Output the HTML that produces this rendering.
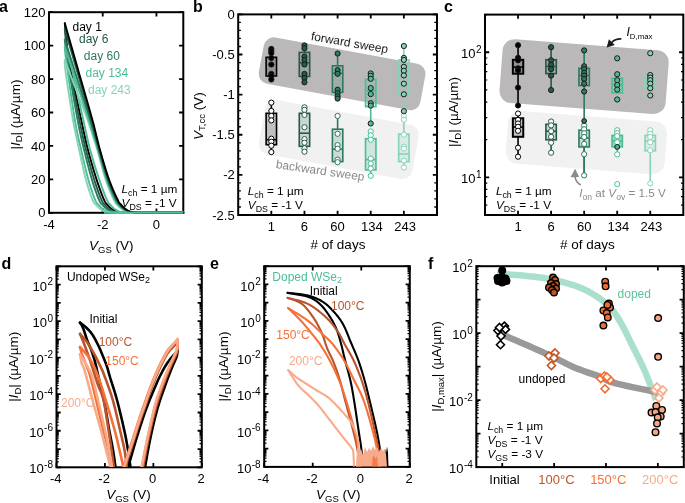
<!DOCTYPE html>
<html><head><meta charset="utf-8"><style>
html,body{margin:0;padding:0;background:#fff;width:685px;height:503px;overflow:hidden}
svg{display:block;will-change:transform}
text{font-family:"Liberation Sans", sans-serif}
</style></head><body>
<svg width="685" height="503" viewBox="0 0 685 503">
<text x="-1" y="12.1" font-size="16" font-weight="bold">a</text>
<text x="193" y="12.2" font-size="16" font-weight="bold">b</text>
<text x="444" y="12.4" font-size="16" font-weight="bold">c</text>
<text x="1.5" y="269.1" font-size="16" font-weight="bold">d</text>
<text x="210" y="268.9" font-size="16" font-weight="bold">e</text>
<text x="428" y="268.8" font-size="16" font-weight="bold">f</text>
<rect x="49" y="12.2" width="134.3" height="200.6" fill="none" stroke="#000" stroke-width="2"/>
<path d="M49 212.8v-4.2M49 12.2v4.2M102.72 212.8v-4.2M102.72 12.2v4.2M156.44 212.8v-4.2M156.44 12.2v4.2" stroke="#000" stroke-width="1.8"/>
<path d="M49 212.8h4.2M183.3 212.8h-4.2M49 179.37h4.2M183.3 179.37h-4.2M49 145.93h4.2M183.3 145.93h-4.2M49 112.5h4.2M183.3 112.5h-4.2M49 79.07h4.2M183.3 79.07h-4.2M49 45.63h4.2M183.3 45.63h-4.2M49 12.2h4.2M183.3 12.2h-4.2" stroke="#000" stroke-width="1.8"/>
<text x="45.5" y="217.4" font-size="13" text-anchor="end" fill="#000" >0</text>
<text x="45.5" y="183.97" font-size="13" text-anchor="end" fill="#000" >20</text>
<text x="45.5" y="150.53" font-size="13" text-anchor="end" fill="#000" >40</text>
<text x="45.5" y="117.1" font-size="13" text-anchor="end" fill="#000" >60</text>
<text x="45.5" y="83.67" font-size="13" text-anchor="end" fill="#000" >80</text>
<text x="45.5" y="50.23" font-size="13" text-anchor="end" fill="#000" >100</text>
<text x="45.5" y="16.8" font-size="13" text-anchor="end" fill="#000" >120</text>
<text x="49" y="229" font-size="13" text-anchor="middle" fill="#000" >-4</text>
<text x="102.72" y="229" font-size="13" text-anchor="middle" fill="#000" >-2</text>
<text x="156.44" y="229" font-size="13" text-anchor="middle" fill="#000" >0</text>
<text x="89" y="250" font-size="13.5" text-anchor="start" fill="#000" ><tspan font-style="italic">V</tspan><tspan font-size="9.5" dy="2.5">GS</tspan><tspan dy="-2.5"> (V)</tspan></text>
<text transform="translate(19.5,114.6) rotate(-90)" font-size="13.5" text-anchor="middle">|<tspan font-style="italic">I</tspan><tspan font-size="9.5" dy="2.5">D</tspan><tspan dy="-2.5">| (µA/µm)</tspan></text>
<rect x="238.2" y="14.4" width="198.8" height="200.6" fill="none" stroke="#000" stroke-width="2"/>
<path d="M271.33 215v-4.2M271.33 14.4v4.2M304.47 215v-4.2M304.47 14.4v4.2M337.6 215v-4.2M337.6 14.4v4.2M370.73 215v-4.2M370.73 14.4v4.2M403.87 215v-4.2M403.87 14.4v4.2" stroke="#000" stroke-width="1.8"/>
<path d="M238.2 14.4h4.2M437 14.4h-4.2M238.2 54.52h4.2M437 54.52h-4.2M238.2 94.64h4.2M437 94.64h-4.2M238.2 134.76h4.2M437 134.76h-4.2M238.2 174.88h4.2M437 174.88h-4.2M238.2 215h4.2M437 215h-4.2" stroke="#000" stroke-width="1.8"/>
<path d="M238.2 22.42h2.7M437 22.42h-2.7M238.2 30.45h2.7M437 30.45h-2.7M238.2 38.47h2.7M437 38.47h-2.7M238.2 46.5h2.7M437 46.5h-2.7M238.2 62.54h2.7M437 62.54h-2.7M238.2 70.57h2.7M437 70.57h-2.7M238.2 78.59h2.7M437 78.59h-2.7M238.2 86.62h2.7M437 86.62h-2.7M238.2 102.66h2.7M437 102.66h-2.7M238.2 110.69h2.7M437 110.69h-2.7M238.2 118.71h2.7M437 118.71h-2.7M238.2 126.74h2.7M437 126.74h-2.7M238.2 142.78h2.7M437 142.78h-2.7M238.2 150.81h2.7M437 150.81h-2.7M238.2 158.83h2.7M437 158.83h-2.7M238.2 166.86h2.7M437 166.86h-2.7M238.2 182.9h2.7M437 182.9h-2.7M238.2 190.93h2.7M437 190.93h-2.7M238.2 198.95h2.7M437 198.95h-2.7M238.2 206.98h2.7M437 206.98h-2.7" stroke="#000" stroke-width="1.3"/>
<text x="234.7" y="19" font-size="13" text-anchor="end" fill="#000" >0</text>
<text x="234.7" y="59.12" font-size="13" text-anchor="end" fill="#000" >-0.5</text>
<text x="234.7" y="99.24" font-size="13" text-anchor="end" fill="#000" >-1</text>
<text x="234.7" y="139.36" font-size="13" text-anchor="end" fill="#000" >-1.5</text>
<text x="234.7" y="179.48" font-size="13" text-anchor="end" fill="#000" >-2</text>
<text x="234.7" y="219.6" font-size="13" text-anchor="end" fill="#000" >-2.5</text>
<text x="271.33" y="230.9" font-size="13" text-anchor="middle" fill="#000" >1</text>
<text x="304.47" y="230.9" font-size="13" text-anchor="middle" fill="#000" >6</text>
<text x="337.6" y="230.9" font-size="13" text-anchor="middle" fill="#000" >60</text>
<text x="371.93" y="230.9" font-size="13" text-anchor="middle" fill="#000" >134</text>
<text x="405.07" y="230.9" font-size="13" text-anchor="middle" fill="#000" >243</text>
<text x="338" y="248.5" font-size="13.5" text-anchor="middle" fill="#000" ># of days</text>
<text transform="translate(202.5,116.2) rotate(-90)" font-size="13.5" text-anchor="middle"><tspan font-style="italic">V</tspan><tspan font-size="9.5" dy="2.5">T,cc</tspan><tspan dy="-2.5"> (V)</tspan></text>
<rect x="485" y="14.6" width="198.3" height="200.4" fill="none" stroke="#000" stroke-width="2"/>
<path d="M518.05 215v-4.2M518.05 14.6v4.2M551.1 215v-4.2M551.1 14.6v4.2M584.15 215v-4.2M584.15 14.6v4.2M617.2 215v-4.2M617.2 14.6v4.2M650.25 215v-4.2M650.25 14.6v4.2" stroke="#000" stroke-width="1.8"/>
<path d="M485 177.34h4.2M683.3 177.34h-4.2M485 52.26h4.2M683.3 52.26h-4.2" stroke="#000" stroke-width="1.8"/>
<path d="M485 215h2.3M683.3 215h-2.3M485 205.1h2.3M683.3 205.1h-2.3M485 196.72h2.3M683.3 196.72h-2.3M485 189.47h2.3M683.3 189.47h-2.3M485 183.07h2.3M683.3 183.07h-2.3M485 139.69h2.3M683.3 139.69h-2.3M485 117.66h2.3M683.3 117.66h-2.3M485 102.03h2.3M683.3 102.03h-2.3M485 89.91h2.3M683.3 89.91h-2.3M485 80.01h2.3M683.3 80.01h-2.3M485 71.63h2.3M683.3 71.63h-2.3M485 64.38h2.3M683.3 64.38h-2.3M485 57.98h2.3M683.3 57.98h-2.3M485 14.6h2.3M683.3 14.6h-2.3" stroke="#000" stroke-width="1.2"/>
<text x="481.5" y="58.36" font-size="13" text-anchor="end">10<tspan font-size="10" dy="-5.5" dx="0.4">2</tspan></text>
<text x="481.5" y="183.44" font-size="13" text-anchor="end">10<tspan font-size="10" dy="-5.5" dx="0.4">1</tspan></text>
<text x="518.05" y="230.9" font-size="13" text-anchor="middle" fill="#000" >1</text>
<text x="551.1" y="230.9" font-size="13" text-anchor="middle" fill="#000" >6</text>
<text x="584.15" y="230.9" font-size="13" text-anchor="middle" fill="#000" >60</text>
<text x="618.4" y="230.9" font-size="13" text-anchor="middle" fill="#000" >134</text>
<text x="651.45" y="230.9" font-size="13" text-anchor="middle" fill="#000" >243</text>
<text x="587.35" y="248.8" font-size="13.5" text-anchor="middle" fill="#000" ># of days</text>
<text transform="translate(458.2,112) rotate(-90)" font-size="13.5" text-anchor="middle">|<tspan font-style="italic">I</tspan><tspan font-size="9.5" dy="2.5">D</tspan><tspan dy="-2.5">| (µA/µm)</tspan></text>
<rect x="56.5" y="266.3" width="145.3" height="201" fill="none" stroke="#000" stroke-width="2"/>
<path d="M56.5 467.3v-4.2M56.5 266.3v4.2M104.93 467.3v-4.2M104.93 266.3v4.2M153.37 467.3v-4.2M153.37 266.3v4.2M201.8 467.3v-4.2M201.8 266.3v4.2" stroke="#000" stroke-width="1.8"/>
<path d="M56.5 467.3h4.2M201.8 467.3h-4.2M56.5 449.03h4.2M201.8 449.03h-4.2M56.5 430.75h4.2M201.8 430.75h-4.2M56.5 412.48h4.2M201.8 412.48h-4.2M56.5 394.21h4.2M201.8 394.21h-4.2M56.5 375.94h4.2M201.8 375.94h-4.2M56.5 357.66h4.2M201.8 357.66h-4.2M56.5 339.39h4.2M201.8 339.39h-4.2M56.5 321.12h4.2M201.8 321.12h-4.2M56.5 302.85h4.2M201.8 302.85h-4.2M56.5 284.57h4.2M201.8 284.57h-4.2M56.5 266.3h4.2M201.8 266.3h-4.2" stroke="#000" stroke-width="1.8"/>
<path d="M56.5 461.8h2.3M201.8 461.8h-2.3M56.5 458.58h2.3M201.8 458.58h-2.3M56.5 456.3h2.3M201.8 456.3h-2.3M56.5 454.53h2.3M201.8 454.53h-2.3M56.5 453.08h2.3M201.8 453.08h-2.3M56.5 451.86h2.3M201.8 451.86h-2.3M56.5 450.8h2.3M201.8 450.8h-2.3M56.5 449.86h2.3M201.8 449.86h-2.3M56.5 443.53h2.3M201.8 443.53h-2.3M56.5 440.31h2.3M201.8 440.31h-2.3M56.5 438.03h2.3M201.8 438.03h-2.3M56.5 436.26h2.3M201.8 436.26h-2.3M56.5 434.81h2.3M201.8 434.81h-2.3M56.5 433.59h2.3M201.8 433.59h-2.3M56.5 432.53h2.3M201.8 432.53h-2.3M56.5 431.59h2.3M201.8 431.59h-2.3M56.5 425.25h2.3M201.8 425.25h-2.3M56.5 422.04h2.3M201.8 422.04h-2.3M56.5 419.75h2.3M201.8 419.75h-2.3M56.5 417.98h2.3M201.8 417.98h-2.3M56.5 416.54h2.3M201.8 416.54h-2.3M56.5 415.31h2.3M201.8 415.31h-2.3M56.5 414.25h2.3M201.8 414.25h-2.3M56.5 413.32h2.3M201.8 413.32h-2.3M56.5 406.98h2.3M201.8 406.98h-2.3M56.5 403.76h2.3M201.8 403.76h-2.3M56.5 401.48h2.3M201.8 401.48h-2.3M56.5 399.71h2.3M201.8 399.71h-2.3M56.5 398.26h2.3M201.8 398.26h-2.3M56.5 397.04h2.3M201.8 397.04h-2.3M56.5 395.98h2.3M201.8 395.98h-2.3M56.5 395.05h2.3M201.8 395.05h-2.3M56.5 388.71h2.3M201.8 388.71h-2.3M56.5 385.49h2.3M201.8 385.49h-2.3M56.5 383.21h2.3M201.8 383.21h-2.3M56.5 381.44h2.3M201.8 381.44h-2.3M56.5 379.99h2.3M201.8 379.99h-2.3M56.5 378.77h2.3M201.8 378.77h-2.3M56.5 377.71h2.3M201.8 377.71h-2.3M56.5 376.77h2.3M201.8 376.77h-2.3M56.5 370.44h2.3M201.8 370.44h-2.3M56.5 367.22h2.3M201.8 367.22h-2.3M56.5 364.94h2.3M201.8 364.94h-2.3M56.5 363.16h2.3M201.8 363.16h-2.3M56.5 361.72h2.3M201.8 361.72h-2.3M56.5 360.49h2.3M201.8 360.49h-2.3M56.5 359.43h2.3M201.8 359.43h-2.3M56.5 358.5h2.3M201.8 358.5h-2.3M56.5 352.16h2.3M201.8 352.16h-2.3M56.5 348.95h2.3M201.8 348.95h-2.3M56.5 346.66h2.3M201.8 346.66h-2.3M56.5 344.89h2.3M201.8 344.89h-2.3M56.5 343.44h2.3M201.8 343.44h-2.3M56.5 342.22h2.3M201.8 342.22h-2.3M56.5 341.16h2.3M201.8 341.16h-2.3M56.5 340.23h2.3M201.8 340.23h-2.3M56.5 333.89h2.3M201.8 333.89h-2.3M56.5 330.67h2.3M201.8 330.67h-2.3M56.5 328.39h2.3M201.8 328.39h-2.3M56.5 326.62h2.3M201.8 326.62h-2.3M56.5 325.17h2.3M201.8 325.17h-2.3M56.5 323.95h2.3M201.8 323.95h-2.3M56.5 322.89h2.3M201.8 322.89h-2.3M56.5 321.95h2.3M201.8 321.95h-2.3M56.5 315.62h2.3M201.8 315.62h-2.3M56.5 312.4h2.3M201.8 312.4h-2.3M56.5 310.12h2.3M201.8 310.12h-2.3M56.5 308.35h2.3M201.8 308.35h-2.3M56.5 306.9h2.3M201.8 306.9h-2.3M56.5 305.68h2.3M201.8 305.68h-2.3M56.5 304.62h2.3M201.8 304.62h-2.3M56.5 303.68h2.3M201.8 303.68h-2.3M56.5 297.34h2.3M201.8 297.34h-2.3M56.5 294.13h2.3M201.8 294.13h-2.3M56.5 291.84h2.3M201.8 291.84h-2.3M56.5 290.07h2.3M201.8 290.07h-2.3M56.5 288.63h2.3M201.8 288.63h-2.3M56.5 287.4h2.3M201.8 287.4h-2.3M56.5 286.34h2.3M201.8 286.34h-2.3M56.5 285.41h2.3M201.8 285.41h-2.3M56.5 279.07h2.3M201.8 279.07h-2.3M56.5 275.85h2.3M201.8 275.85h-2.3M56.5 273.57h2.3M201.8 273.57h-2.3M56.5 271.8h2.3M201.8 271.8h-2.3M56.5 270.35h2.3M201.8 270.35h-2.3M56.5 269.13h2.3M201.8 269.13h-2.3M56.5 268.07h2.3M201.8 268.07h-2.3M56.5 267.14h2.3M201.8 267.14h-2.3" stroke="#000" stroke-width="1.2"/>
<text x="53" y="290.67" font-size="13" text-anchor="end">10<tspan font-size="10" dy="-5.5" dx="0.4">2</tspan></text>
<text x="53" y="327.22" font-size="13" text-anchor="end">10<tspan font-size="10" dy="-5.5" dx="0.4">0</tspan></text>
<text x="53" y="363.76" font-size="13" text-anchor="end">10<tspan font-size="10" dy="-5.5" dx="0.4">-2</tspan></text>
<text x="53" y="400.31" font-size="13" text-anchor="end">10<tspan font-size="10" dy="-5.5" dx="0.4">-4</tspan></text>
<text x="53" y="436.85" font-size="13" text-anchor="end">10<tspan font-size="10" dy="-5.5" dx="0.4">-6</tspan></text>
<text x="53" y="473.4" font-size="13" text-anchor="end">10<tspan font-size="10" dy="-5.5" dx="0.4">-8</tspan></text>
<text x="55.7" y="483" font-size="13" text-anchor="middle" fill="#000" >-4</text>
<text x="104.13" y="483" font-size="13" text-anchor="middle" fill="#000" >-2</text>
<text x="152.57" y="483" font-size="13" text-anchor="middle" fill="#000" >0</text>
<text x="201" y="483" font-size="13" text-anchor="middle" fill="#000" >2</text>
<text x="106.15" y="499" font-size="13.5" text-anchor="start" fill="#000" ><tspan font-style="italic">V</tspan><tspan font-size="9.5" dy="2.5">GS</tspan><tspan dy="-2.5"> (V)</tspan></text>
<rect x="264.2" y="266.2" width="145.6" height="200.7" fill="none" stroke="#000" stroke-width="2"/>
<path d="M264.2 466.9v-4.2M264.2 266.2v4.2M312.73 466.9v-4.2M312.73 266.2v4.2M361.27 466.9v-4.2M361.27 266.2v4.2M409.8 466.9v-4.2M409.8 266.2v4.2" stroke="#000" stroke-width="1.8"/>
<path d="M264.2 466.9h4.2M409.8 466.9h-4.2M264.2 448.65h4.2M409.8 448.65h-4.2M264.2 430.41h4.2M409.8 430.41h-4.2M264.2 412.16h4.2M409.8 412.16h-4.2M264.2 393.92h4.2M409.8 393.92h-4.2M264.2 375.67h4.2M409.8 375.67h-4.2M264.2 357.43h4.2M409.8 357.43h-4.2M264.2 339.18h4.2M409.8 339.18h-4.2M264.2 320.94h4.2M409.8 320.94h-4.2M264.2 302.69h4.2M409.8 302.69h-4.2M264.2 284.45h4.2M409.8 284.45h-4.2M264.2 266.2h4.2M409.8 266.2h-4.2" stroke="#000" stroke-width="1.8"/>
<path d="M264.2 461.41h2.3M409.8 461.41h-2.3M264.2 458.19h2.3M409.8 458.19h-2.3M264.2 455.92h2.3M409.8 455.92h-2.3M264.2 454.15h2.3M409.8 454.15h-2.3M264.2 452.7h2.3M409.8 452.7h-2.3M264.2 451.48h2.3M409.8 451.48h-2.3M264.2 450.42h2.3M409.8 450.42h-2.3M264.2 449.49h2.3M409.8 449.49h-2.3M264.2 443.16h2.3M409.8 443.16h-2.3M264.2 439.95h2.3M409.8 439.95h-2.3M264.2 437.67h2.3M409.8 437.67h-2.3M264.2 435.9h2.3M409.8 435.9h-2.3M264.2 434.46h2.3M409.8 434.46h-2.3M264.2 433.24h2.3M409.8 433.24h-2.3M264.2 432.18h2.3M409.8 432.18h-2.3M264.2 431.24h2.3M409.8 431.24h-2.3M264.2 424.92h2.3M409.8 424.92h-2.3M264.2 421.7h2.3M409.8 421.7h-2.3M264.2 419.42h2.3M409.8 419.42h-2.3M264.2 417.66h2.3M409.8 417.66h-2.3M264.2 416.21h2.3M409.8 416.21h-2.3M264.2 414.99h2.3M409.8 414.99h-2.3M264.2 413.93h2.3M409.8 413.93h-2.3M264.2 413h2.3M409.8 413h-2.3M264.2 406.67h2.3M409.8 406.67h-2.3M264.2 403.46h2.3M409.8 403.46h-2.3M264.2 401.18h2.3M409.8 401.18h-2.3M264.2 399.41h2.3M409.8 399.41h-2.3M264.2 397.97h2.3M409.8 397.97h-2.3M264.2 396.74h2.3M409.8 396.74h-2.3M264.2 395.69h2.3M409.8 395.69h-2.3M264.2 394.75h2.3M409.8 394.75h-2.3M264.2 388.43h2.3M409.8 388.43h-2.3M264.2 385.21h2.3M409.8 385.21h-2.3M264.2 382.93h2.3M409.8 382.93h-2.3M264.2 381.17h2.3M409.8 381.17h-2.3M264.2 379.72h2.3M409.8 379.72h-2.3M264.2 378.5h2.3M409.8 378.5h-2.3M264.2 377.44h2.3M409.8 377.44h-2.3M264.2 376.51h2.3M409.8 376.51h-2.3M264.2 370.18h2.3M409.8 370.18h-2.3M264.2 366.97h2.3M409.8 366.97h-2.3M264.2 364.69h2.3M409.8 364.69h-2.3M264.2 362.92h2.3M409.8 362.92h-2.3M264.2 361.48h2.3M409.8 361.48h-2.3M264.2 360.25h2.3M409.8 360.25h-2.3M264.2 359.2h2.3M409.8 359.2h-2.3M264.2 358.26h2.3M409.8 358.26h-2.3M264.2 351.93h2.3M409.8 351.93h-2.3M264.2 348.72h2.3M409.8 348.72h-2.3M264.2 346.44h2.3M409.8 346.44h-2.3M264.2 344.67h2.3M409.8 344.67h-2.3M264.2 343.23h2.3M409.8 343.23h-2.3M264.2 342.01h2.3M409.8 342.01h-2.3M264.2 340.95h2.3M409.8 340.95h-2.3M264.2 340.02h2.3M409.8 340.02h-2.3M264.2 333.69h2.3M409.8 333.69h-2.3M264.2 330.48h2.3M409.8 330.48h-2.3M264.2 328.2h2.3M409.8 328.2h-2.3M264.2 326.43h2.3M409.8 326.43h-2.3M264.2 324.98h2.3M409.8 324.98h-2.3M264.2 323.76h2.3M409.8 323.76h-2.3M264.2 322.7h2.3M409.8 322.7h-2.3M264.2 321.77h2.3M409.8 321.77h-2.3M264.2 315.44h2.3M409.8 315.44h-2.3M264.2 312.23h2.3M409.8 312.23h-2.3M264.2 309.95h2.3M409.8 309.95h-2.3M264.2 308.18h2.3M409.8 308.18h-2.3M264.2 306.74h2.3M409.8 306.74h-2.3M264.2 305.52h2.3M409.8 305.52h-2.3M264.2 304.46h2.3M409.8 304.46h-2.3M264.2 303.53h2.3M409.8 303.53h-2.3M264.2 297.2h2.3M409.8 297.2h-2.3M264.2 293.99h2.3M409.8 293.99h-2.3M264.2 291.71h2.3M409.8 291.71h-2.3M264.2 289.94h2.3M409.8 289.94h-2.3M264.2 288.49h2.3M409.8 288.49h-2.3M264.2 287.27h2.3M409.8 287.27h-2.3M264.2 286.21h2.3M409.8 286.21h-2.3M264.2 285.28h2.3M409.8 285.28h-2.3M264.2 278.95h2.3M409.8 278.95h-2.3M264.2 275.74h2.3M409.8 275.74h-2.3M264.2 273.46h2.3M409.8 273.46h-2.3M264.2 271.69h2.3M409.8 271.69h-2.3M264.2 270.25h2.3M409.8 270.25h-2.3M264.2 269.03h2.3M409.8 269.03h-2.3M264.2 267.97h2.3M409.8 267.97h-2.3M264.2 267.03h2.3M409.8 267.03h-2.3" stroke="#000" stroke-width="1.2"/>
<text x="260.7" y="290.55" font-size="13" text-anchor="end">10<tspan font-size="10" dy="-5.5" dx="0.4">2</tspan></text>
<text x="260.7" y="327.04" font-size="13" text-anchor="end">10<tspan font-size="10" dy="-5.5" dx="0.4">0</tspan></text>
<text x="260.7" y="363.53" font-size="13" text-anchor="end">10<tspan font-size="10" dy="-5.5" dx="0.4">-2</tspan></text>
<text x="260.7" y="400.02" font-size="13" text-anchor="end">10<tspan font-size="10" dy="-5.5" dx="0.4">-4</tspan></text>
<text x="260.7" y="436.51" font-size="13" text-anchor="end">10<tspan font-size="10" dy="-5.5" dx="0.4">-6</tspan></text>
<text x="260.7" y="473" font-size="13" text-anchor="end">10<tspan font-size="10" dy="-5.5" dx="0.4">-8</tspan></text>
<text x="263.4" y="483" font-size="13" text-anchor="middle" fill="#000" >-4</text>
<text x="311.93" y="483" font-size="13" text-anchor="middle" fill="#000" >-2</text>
<text x="360.47" y="483" font-size="13" text-anchor="middle" fill="#000" >0</text>
<text x="409" y="483" font-size="13" text-anchor="middle" fill="#000" >2</text>
<text x="316" y="499" font-size="13.5" text-anchor="start" fill="#000" ><tspan font-style="italic">V</tspan><tspan font-size="9.5" dy="2.5">GS</tspan><tspan dy="-2.5"> (V)</tspan></text>
<text transform="translate(18.2,366.8) rotate(-90)" font-size="13.5" text-anchor="middle">|<tspan font-style="italic">I</tspan><tspan font-size="9.5" dy="2.5">D</tspan><tspan dy="-2.5">| (µA/µm)</tspan></text>
<text transform="translate(228,366.6) rotate(-90)" font-size="13.5" text-anchor="middle">|<tspan font-style="italic">I</tspan><tspan font-size="9.5" dy="2.5">D</tspan><tspan dy="-2.5">| (µA/µm)</tspan></text>
<rect x="476.3" y="266.2" width="207.5" height="200.9" fill="none" stroke="#000" stroke-width="2"/>
<path d="M502.24 467.1v-4.2M502.24 266.2v4.2M554.11 467.1v-4.2M554.11 266.2v4.2M605.99 467.1v-4.2M605.99 266.2v4.2M657.86 467.1v-4.2M657.86 266.2v4.2" stroke="#000" stroke-width="1.8"/>
<path d="M476.3 467.1h4.2M683.8 467.1h-4.2M476.3 433.62h4.2M683.8 433.62h-4.2M476.3 400.13h4.2M683.8 400.13h-4.2M476.3 366.65h4.2M683.8 366.65h-4.2M476.3 333.17h4.2M683.8 333.17h-4.2M476.3 299.68h4.2M683.8 299.68h-4.2M476.3 266.2h4.2M683.8 266.2h-4.2" stroke="#000" stroke-width="1.8"/>
<path d="M476.3 457.02h2.3M683.8 457.02h-2.3M476.3 451.12h2.3M683.8 451.12h-2.3M476.3 446.94h2.3M683.8 446.94h-2.3M476.3 443.7h2.3M683.8 443.7h-2.3M476.3 441.04h2.3M683.8 441.04h-2.3M476.3 438.8h2.3M683.8 438.8h-2.3M476.3 436.86h2.3M683.8 436.86h-2.3M476.3 435.15h2.3M683.8 435.15h-2.3M476.3 423.54h2.3M683.8 423.54h-2.3M476.3 417.64h2.3M683.8 417.64h-2.3M476.3 413.46h2.3M683.8 413.46h-2.3M476.3 410.21h2.3M683.8 410.21h-2.3M476.3 407.56h2.3M683.8 407.56h-2.3M476.3 405.32h2.3M683.8 405.32h-2.3M476.3 403.38h2.3M683.8 403.38h-2.3M476.3 401.67h2.3M683.8 401.67h-2.3M476.3 390.05h2.3M683.8 390.05h-2.3M476.3 384.16h2.3M683.8 384.16h-2.3M476.3 379.97h2.3M683.8 379.97h-2.3M476.3 376.73h2.3M683.8 376.73h-2.3M476.3 374.08h2.3M683.8 374.08h-2.3M476.3 371.84h2.3M683.8 371.84h-2.3M476.3 369.89h2.3M683.8 369.89h-2.3M476.3 368.18h2.3M683.8 368.18h-2.3M476.3 356.57h2.3M683.8 356.57h-2.3M476.3 350.67h2.3M683.8 350.67h-2.3M476.3 346.49h2.3M683.8 346.49h-2.3M476.3 343.25h2.3M683.8 343.25h-2.3M476.3 340.59h2.3M683.8 340.59h-2.3M476.3 338.35h2.3M683.8 338.35h-2.3M476.3 336.41h2.3M683.8 336.41h-2.3M476.3 334.7h2.3M683.8 334.7h-2.3M476.3 323.09h2.3M683.8 323.09h-2.3M476.3 317.19h2.3M683.8 317.19h-2.3M476.3 313.01h2.3M683.8 313.01h-2.3M476.3 309.76h2.3M683.8 309.76h-2.3M476.3 307.11h2.3M683.8 307.11h-2.3M476.3 304.87h2.3M683.8 304.87h-2.3M476.3 302.93h2.3M683.8 302.93h-2.3M476.3 301.22h2.3M683.8 301.22h-2.3M476.3 289.6h2.3M683.8 289.6h-2.3M476.3 283.71h2.3M683.8 283.71h-2.3M476.3 279.52h2.3M683.8 279.52h-2.3M476.3 276.28h2.3M683.8 276.28h-2.3M476.3 273.63h2.3M683.8 273.63h-2.3M476.3 271.39h2.3M683.8 271.39h-2.3M476.3 269.44h2.3M683.8 269.44h-2.3M476.3 267.73h2.3M683.8 267.73h-2.3" stroke="#000" stroke-width="1.2"/>
<text x="472.8" y="272.3" font-size="13" text-anchor="end">10<tspan font-size="10" dy="-5.5" dx="0.4">2</tspan></text>
<text x="472.8" y="339.27" font-size="13" text-anchor="end">10<tspan font-size="10" dy="-5.5" dx="0.4">0</tspan></text>
<text x="472.8" y="406.23" font-size="13" text-anchor="end">10<tspan font-size="10" dy="-5.5" dx="0.4">-2</tspan></text>
<text x="472.8" y="473.2" font-size="13" text-anchor="end">10<tspan font-size="10" dy="-5.5" dx="0.4">-4</tspan></text>
<text x="504.54" y="484.3" font-size="13" text-anchor="middle" fill="#000" >Initial</text>
<text x="556.41" y="484.3" font-size="13" text-anchor="middle" fill="#b9552c" >100°C</text>
<text x="608.29" y="484.3" font-size="13" text-anchor="middle" fill="#f4713a" >150°C</text>
<text x="660.16" y="484.3" font-size="13" text-anchor="middle" fill="#f8ab8a" >200°C</text>
<text transform="translate(441,366.6) rotate(-90)" font-size="13.5" text-anchor="middle">|<tspan font-style="italic">I</tspan><tspan font-size="9.5" dy="2.5">D,max</tspan><tspan dy="-2.5">| (µA/µm)</tspan></text>
<path d="M64.8 23.3 L65.09 26.15 L65.41 29.8 L65.79 34.13 L66.25 39.02 L66.8 44.37 L67.46 50.06 L68.25 55.97 L69.2 62 L70.38 68.52 L71.8 75.8 L73.39 83.57 L75.07 91.54 L76.78 99.45 L78.42 107.02 L79.94 113.96 L81.24 120 L82.32 125.09 L83.26 129.47 L84.08 133.3 L84.83 136.75 L85.55 139.98 L86.3 143.16 L87.1 146.44 L88 150 L89.01 153.82 L90.07 157.73 L91.18 161.69 L92.32 165.62 L93.46 169.48 L94.59 173.2 L95.68 176.73 L96.72 180 L97.73 183.08 L98.75 186.05 L99.76 188.89 L100.74 191.56 L101.68 194.04 L102.57 196.29 L103.39 198.29 L104.12 200 L104.75 201.35 L105.29 202.34 L105.75 203.04 L106.16 203.53 L106.54 203.89 L106.91 204.2 L107.3 204.54 L107.72 205 L108.17 205.52 L108.6 206.02 L109.04 206.5 L109.48 206.96 L109.92 207.39 L110.37 207.81 L110.84 208.21 L111.32 208.6 L111.82 208.97 L112.32 209.33 L112.83 209.67 L113.35 209.99 L113.89 210.3 L114.44 210.59 L115.02 210.85 L115.62 211.1 L116.23 211.33 L116.83 211.53 L117.44 211.72 L118.08 211.89 L118.75 212.04 L119.47 212.17 L120.26 212.29 L121.12 212.4 L121.78 212.49 L122.09 212.55 L122.3 212.6 L122.64 212.63 L123.36 212.65 L124.68 212.67 L126.86 212.68 L130.12 212.7 L135.02 212.71 L141.56 212.72 L149.16 212.72 L157.27 212.72 L165.31 212.71 L172.71 212.71 L178.9 212.7 L183.3 212.7" fill="none" stroke="#000000" stroke-width="1.9" stroke-linejoin="round" stroke-linecap="round" />
<path d="M64.8 28.8 L65.03 31.19 L65.27 34.18 L65.56 37.73 L65.91 41.77 L66.34 46.27 L66.89 51.18 L67.56 56.44 L68.39 62 L69.44 68.25 L70.72 75.41 L72.16 83.16 L73.7 91.2 L75.26 99.21 L76.77 106.89 L78.17 113.92 L79.39 120 L80.41 125.09 L81.31 129.47 L82.12 133.3 L82.87 136.75 L83.6 139.98 L84.35 143.16 L85.14 146.44 L86.02 150 L86.98 153.82 L88 157.73 L89.05 161.69 L90.13 165.62 L91.21 169.48 L92.27 173.2 L93.31 176.73 L94.31 180 L95.29 183.08 L96.27 186.05 L97.25 188.89 L98.21 191.56 L99.13 194.04 L100 196.29 L100.81 198.29 L101.53 200 L102.15 201.35 L102.68 202.34 L103.14 203.04 L103.55 203.53 L103.94 203.89 L104.31 204.2 L104.7 204.54 L105.13 205 L105.57 205.52 L106.01 206.02 L106.45 206.5 L106.88 206.96 L107.33 207.39 L107.78 207.81 L108.24 208.21 L108.73 208.6 L109.22 208.97 L109.73 209.33 L110.24 209.67 L110.76 209.99 L111.3 210.3 L111.85 210.59 L112.43 210.85 L113.03 211.1 L113.63 211.33 L114.24 211.53 L114.85 211.72 L115.48 211.89 L116.16 212.04 L116.88 212.17 L117.66 212.29 L118.53 212.4 L119.17 212.49 L119.44 212.55 L119.59 212.6 L119.89 212.63 L120.57 212.65 L121.91 212.67 L124.14 212.68 L127.53 212.7 L132.64 212.71 L139.49 212.72 L147.47 212.72 L155.98 212.72 L164.41 212.71 L172.18 212.71 L178.68 212.7 L183.3 212.7" fill="none" stroke="#245a48" stroke-width="1.9" stroke-linejoin="round" stroke-linecap="round" />
<path d="M64.8 39.7 L64.97 41.18 L65.14 42.87 L65.34 44.86 L65.59 47.23 L65.92 50.04 L66.35 53.39 L66.91 57.35 L67.62 62 L68.56 67.73 L69.7 74.65 L71.01 82.37 L72.4 90.52 L73.82 98.73 L75.21 106.63 L76.5 113.85 L77.64 120 L78.61 125.09 L79.48 129.47 L80.27 133.3 L81.03 136.75 L81.76 139.98 L82.51 143.16 L83.29 146.44 L84.15 150 L85.08 153.82 L86.04 157.73 L87.04 161.69 L88.06 165.62 L89.08 169.48 L90.09 173.2 L91.08 176.73 L92.03 180 L92.97 183.08 L93.93 186.05 L94.89 188.89 L95.82 191.56 L96.73 194.04 L97.58 196.29 L98.37 198.29 L99.08 200 L99.7 201.35 L100.22 202.34 L100.68 203.04 L101.1 203.53 L101.48 203.89 L101.86 204.2 L102.25 204.54 L102.68 205 L103.13 205.52 L103.56 206.02 L104 206.5 L104.44 206.96 L104.88 207.39 L105.33 207.81 L105.8 208.21 L106.28 208.6 L106.78 208.97 L107.28 209.33 L107.79 209.67 L108.31 209.99 L108.85 210.3 L109.4 210.59 L109.98 210.85 L110.58 211.1 L111.19 211.33 L111.79 211.53 L112.4 211.72 L113.04 211.89 L113.71 212.04 L114.43 212.17 L115.22 212.29 L116.08 212.4 L116.7 212.49 L116.93 212.55 L117.04 212.6 L117.28 212.63 L117.95 212.65 L119.29 212.67 L121.58 212.68 L125.08 212.7 L130.4 212.71 L137.54 212.72 L145.87 212.72 L154.75 212.72 L163.57 212.71 L171.69 212.71 L178.47 212.7 L183.3 212.7" fill="none" stroke="#2c7a5f" stroke-width="1.9" stroke-linejoin="round" stroke-linecap="round" />
<path d="M64.8 47 L64.88 47.86 L64.93 48.69 L64.99 49.64 L65.08 50.88 L65.23 52.57 L65.49 54.88 L65.87 57.96 L66.41 62 L67.15 67.38 L68.09 74.13 L69.17 81.83 L70.34 90.06 L71.54 98.41 L72.73 106.46 L73.85 113.8 L74.85 120 L75.74 125.09 L76.56 129.47 L77.34 133.3 L78.09 136.75 L78.83 139.98 L79.58 143.16 L80.36 146.44 L81.18 150 L82.04 153.82 L82.93 157.73 L83.85 161.69 L84.77 165.62 L85.69 169.48 L86.61 173.2 L87.52 176.73 L88.41 180 L89.3 183.08 L90.21 186.05 L91.13 188.89 L92.03 191.56 L92.9 194.04 L93.73 196.29 L94.5 198.29 L95.19 200 L95.79 201.35 L96.32 202.34 L96.77 203.04 L97.19 203.53 L97.58 203.89 L97.97 204.2 L98.36 204.54 L98.79 205 L99.24 205.52 L99.68 206.02 L100.11 206.5 L100.55 206.96 L100.99 207.39 L101.44 207.81 L101.91 208.21 L102.39 208.6 L102.89 208.97 L103.39 209.33 L103.9 209.67 L104.42 209.99 L104.96 210.3 L105.52 210.59 L106.09 210.85 L106.69 211.1 L107.3 211.33 L107.9 211.53 L108.51 211.72 L109.15 211.89 L109.82 212.04 L110.54 212.17 L111.33 212.29 L112.19 212.4 L112.79 212.49 L112.95 212.55 L112.98 212.6 L113.15 212.63 L113.77 212.65 L115.13 212.67 L117.5 212.68 L121.19 212.7 L126.84 212.71 L134.44 212.72 L143.32 212.72 L152.81 212.72 L162.22 212.71 L170.9 212.71 L178.15 212.7 L183.3 212.7" fill="none" stroke="#4cbe93" stroke-width="1.9" stroke-linejoin="round" stroke-linecap="round" />
<path d="M64.8 47 L65.15 47.86 L65.57 48.69 L66.05 49.64 L66.62 50.88 L67.3 52.57 L68.1 54.88 L69.02 57.96 L70.1 62 L71.42 67.38 L72.99 74.13 L74.75 81.83 L76.6 90.06 L78.46 98.41 L80.26 106.46 L81.9 113.8 L83.3 120 L84.45 125.09 L85.41 129.47 L86.25 133.3 L87 136.75 L87.72 139.98 L88.46 143.16 L89.27 146.44 L90.2 150 L91.25 153.82 L92.38 157.73 L93.55 161.69 L94.76 165.62 L95.97 169.48 L97.16 173.2 L98.31 176.73 L99.4 180 L100.45 183.08 L101.51 186.05 L102.54 188.89 L103.55 191.56 L104.51 194.04 L105.42 196.29 L106.25 198.29 L107 200 L107.64 201.35 L108.18 202.34 L108.64 203.04 L109.05 203.53 L109.43 203.89 L109.79 204.2 L110.18 204.54 L110.6 205 L111.05 205.52 L111.48 206.02 L111.92 206.5 L112.36 206.96 L112.8 207.39 L113.25 207.81 L113.72 208.21 L114.2 208.6 L114.7 208.97 L115.2 209.33 L115.71 209.67 L116.23 209.99 L116.77 210.3 L117.32 210.59 L117.9 210.85 L118.5 211.1 L119.11 211.33 L119.71 211.53 L120.32 211.72 L120.96 211.89 L121.63 212.04 L122.35 212.17 L123.14 212.29 L124 212.4 L124.68 212.49 L125.04 212.55 L125.3 212.6 L125.7 212.63 L126.45 212.65 L127.76 212.67 L129.87 212.68 L133 212.7 L137.66 212.71 L143.85 212.72 L151.05 212.72 L158.71 212.72 L166.31 212.71 L173.29 212.71 L179.14 212.7 L183.3 212.7" fill="none" stroke="#4cbe93" stroke-width="1.9" stroke-linejoin="round" stroke-linecap="round" />
<path d="M64.8 60 L64.82 60.68 L64.79 61.31 L64.75 62.04 L64.74 63 L64.78 64.34 L64.92 66.19 L65.18 68.7 L65.6 72 L66.22 76.4 L67.01 81.89 L67.94 88.15 L68.96 94.88 L70.02 101.74 L71.08 108.42 L72.09 114.62 L73 120 L73.83 124.61 L74.62 128.77 L75.39 132.57 L76.14 136.12 L76.88 139.54 L77.64 142.92 L78.4 146.37 L79.2 150 L80.02 153.82 L80.86 157.73 L81.71 161.69 L82.58 165.62 L83.44 169.48 L84.3 173.2 L85.16 176.73 L86 180 L86.86 183.08 L87.73 186.05 L88.62 188.89 L89.5 191.56 L90.35 194.04 L91.17 196.29 L91.92 198.29 L92.6 200 L93.19 201.35 L93.71 202.34 L94.17 203.04 L94.59 203.53 L94.98 203.89 L95.37 204.2 L95.77 204.54 L96.2 205 L96.65 205.52 L97.08 206.02 L97.52 206.5 L97.96 206.96 L98.4 207.39 L98.85 207.81 L99.32 208.21 L99.8 208.6 L100.3 208.97 L100.8 209.33 L101.31 209.67 L101.83 209.99 L102.37 210.3 L102.92 210.59 L103.5 210.85 L104.1 211.1 L104.71 211.33 L105.31 211.53 L105.92 211.72 L106.56 211.89 L107.23 212.04 L107.95 212.17 L108.74 212.29 L109.6 212.4 L110.18 212.49 L110.3 212.55 L110.27 212.6 L110.4 212.63 L110.99 212.65 L112.35 212.67 L114.79 212.68 L118.6 212.7 L124.46 212.71 L132.38 212.72 L141.63 212.72 L151.51 212.72 L161.33 212.71 L170.37 212.71 L177.93 212.7 L183.3 212.7" fill="none" stroke="#86d4b5" stroke-width="1.9" stroke-linejoin="round" stroke-linecap="round" />
<path d="M64.8 60 L65.58 62.04 L66.59 64.71 L67.8 67.88 L69.15 71.44 L70.59 75.25 L72.09 79.2 L73.6 83.15 L75.06 87 L76.54 90.86 L78.1 94.9 L79.72 99.07 L81.37 103.31 L83.01 107.58 L84.61 111.82 L86.15 115.98 L87.6 120 L88.96 123.89 L90.25 127.71 L91.5 131.47 L92.7 135.19 L93.88 138.88 L95.03 142.57 L96.16 146.27 L97.3 150 L98.42 153.82 L99.52 157.73 L100.59 161.69 L101.64 165.62 L102.69 169.48 L103.72 173.2 L104.76 176.73 L105.8 180 L106.87 183.08 L107.98 186.05 L109.1 188.89 L110.21 191.56 L111.28 194.04 L112.28 196.29 L113.2 198.29 L114 200 L114.67 201.35 L115.22 202.34 L115.69 203.04 L116.09 203.53 L116.45 203.89 L116.81 204.2 L117.18 204.54 L117.6 205 L118.05 205.52 L118.48 206.02 L118.92 206.5 L119.36 206.96 L119.8 207.39 L120.25 207.81 L120.72 208.21 L121.2 208.6 L121.7 208.97 L122.2 209.33 L122.71 209.67 L123.23 209.99 L123.77 210.3 L124.32 210.59 L124.9 210.85 L125.5 211.1 L126.11 211.33 L126.71 211.53 L127.32 211.72 L127.96 211.89 L128.63 212.04 L129.35 212.17 L130.14 212.29 L131 212.4 L131.72 212.49 L132.2 212.55 L132.61 212.6 L133.14 212.63 L133.96 212.65 L135.26 212.67 L137.21 212.68 L140 212.7 L144.07 212.71 L149.43 212.72 L155.63 212.72 L162.21 212.72 L168.73 212.71 L174.72 212.71 L179.72 212.7 L183.3 212.7" fill="none" stroke="#86d4b5" stroke-width="1.9" stroke-linejoin="round" stroke-linecap="round" />
<path d="M64.8 47 L65.62 49.48 L66.68 52.73 L67.95 56.59 L69.37 60.92 L70.9 65.55 L72.48 70.35 L74.06 75.17 L75.6 79.85 L77.16 84.59 L78.83 89.61 L80.55 94.82 L82.3 100.1 L84.04 105.37 L85.73 110.51 L87.33 115.42 L88.8 120 L90.14 124.24 L91.39 128.21 L92.56 131.99 L93.67 135.63 L94.75 139.2 L95.81 142.74 L96.88 146.32 L97.97 150 L99.09 153.82 L100.19 157.73 L101.28 161.69 L102.37 165.62 L103.45 169.48 L104.52 173.2 L105.59 176.73 L106.65 180 L107.74 183.08 L108.86 186.05 L110 188.89 L111.12 191.56 L112.2 194.04 L113.21 196.29 L114.14 198.29 L114.95 200 L115.62 201.35 L116.18 202.34 L116.64 203.04 L117.04 203.53 L117.41 203.89 L117.76 204.2 L118.13 204.54 L118.55 205 L119 205.52 L119.43 206.02 L119.87 206.5 L120.31 206.96 L120.75 207.39 L121.2 207.81 L121.67 208.21 L122.15 208.6 L122.65 208.97 L123.15 209.33 L123.66 209.67 L124.18 209.99 L124.72 210.3 L125.27 210.59 L125.85 210.85 L126.45 211.1 L127.06 211.33 L127.66 211.53 L128.27 211.72 L128.91 211.89 L129.58 212.04 L130.3 212.17 L131.09 212.29 L131.95 212.4 L132.68 212.49 L133.17 212.55 L133.6 212.6 L134.15 212.63 L134.98 212.65 L136.27 212.67 L138.21 212.68 L140.95 212.7 L144.94 212.71 L150.19 212.72 L156.25 212.72 L162.69 212.72 L169.05 212.71 L174.91 212.71 L179.8 212.7 L183.3 212.7" fill="none" stroke="#4cbe93" stroke-width="1.9" stroke-linejoin="round" stroke-linecap="round" />
<path d="M64.8 39.7 L65.67 42.43 L66.8 46 L68.14 50.25 L69.65 55.01 L71.27 60.11 L72.94 65.39 L74.62 70.69 L76.25 75.84 L77.91 81.07 L79.69 86.64 L81.55 92.43 L83.43 98.3 L85.28 104.12 L87.07 109.77 L88.73 115.1 L90.24 120 L91.57 124.43 L92.75 128.5 L93.83 132.29 L94.83 135.89 L95.8 139.37 L96.75 142.83 L97.74 146.35 L98.78 150 L99.88 153.82 L100.99 157.73 L102.11 161.69 L103.24 165.62 L104.36 169.48 L105.47 173.2 L106.58 176.73 L107.67 180 L108.78 183.08 L109.92 186.05 L111.07 188.89 L112.21 191.56 L113.31 194.04 L114.33 196.29 L115.27 198.29 L116.09 200 L116.77 201.35 L117.33 202.34 L117.79 203.04 L118.19 203.53 L118.55 203.89 L118.9 204.2 L119.27 204.54 L119.69 205 L120.14 205.52 L120.57 206.02 L121.01 206.5 L121.45 206.96 L121.89 207.39 L122.34 207.81 L122.81 208.21 L123.29 208.6 L123.79 208.97 L124.29 209.33 L124.8 209.67 L125.32 209.99 L125.86 210.3 L126.41 210.59 L126.99 210.85 L127.59 211.1 L128.2 211.33 L128.8 211.53 L129.41 211.72 L130.05 211.89 L130.72 212.04 L131.44 212.17 L132.23 212.29 L133.09 212.4 L133.83 212.49 L134.34 212.55 L134.79 212.6 L135.36 212.63 L136.2 212.65 L137.49 212.67 L139.4 212.68 L142.09 212.7 L145.98 212.71 L151.09 212.72 L157 212.72 L163.26 212.72 L169.45 212.71 L175.14 212.71 L179.9 212.7 L183.3 212.7" fill="none" stroke="#2c7a5f" stroke-width="1.9" stroke-linejoin="round" stroke-linecap="round" />
<path d="M64.8 28.8 L65.7 31.9 L66.88 35.96 L68.29 40.78 L69.86 46.19 L71.55 51.98 L73.29 57.98 L75.04 63.99 L76.74 69.84 L78.49 75.81 L80.36 82.21 L82.31 88.87 L84.29 95.61 L86.23 102.27 L88.09 108.66 L89.81 114.63 L91.34 120 L92.66 124.71 L93.8 128.92 L94.8 132.73 L95.72 136.26 L96.6 139.64 L97.47 142.97 L98.4 146.39 L99.41 150 L100.49 153.82 L101.61 157.73 L102.75 161.69 L103.9 165.62 L105.06 169.48 L106.2 173.2 L107.34 176.73 L108.45 180 L109.58 183.08 L110.73 186.05 L111.9 188.89 L113.05 191.56 L114.16 194.04 L115.19 196.29 L116.14 198.29 L116.96 200 L117.65 201.35 L118.21 202.34 L118.67 203.04 L119.07 203.53 L119.43 203.89 L119.78 204.2 L120.15 204.54 L120.56 205 L121.01 205.52 L121.45 206.02 L121.88 206.5 L122.32 206.96 L122.76 207.39 L123.21 207.81 L123.68 208.21 L124.16 208.6 L124.66 208.97 L125.16 209.33 L125.67 209.67 L126.2 209.99 L126.73 210.3 L127.29 210.59 L127.86 210.85 L128.46 211.1 L129.07 211.33 L129.67 211.53 L130.28 211.72 L130.92 211.89 L131.59 212.04 L132.31 212.17 L133.1 212.29 L133.96 212.4 L134.71 212.49 L135.23 212.55 L135.71 212.6 L136.29 212.63 L137.14 212.65 L138.43 212.67 L140.32 212.68 L142.96 212.7 L146.78 212.71 L151.79 212.72 L157.57 212.72 L163.69 212.72 L169.75 212.71 L175.32 212.71 L179.97 212.7 L183.3 212.7" fill="none" stroke="#245a48" stroke-width="1.9" stroke-linejoin="round" stroke-linecap="round" />
<path d="M64.8 23.3 L65.74 26.59 L66.97 30.89 L68.43 36.01 L70.06 41.73 L71.81 47.88 L73.63 54.24 L75.45 60.62 L77.22 66.81 L79.04 73.16 L81 79.97 L83.04 87.07 L85.11 94.25 L87.14 101.33 L89.07 108.11 L90.85 114.4 L92.4 120 L93.7 124.86 L94.8 129.13 L95.73 132.95 L96.57 136.45 L97.37 139.77 L98.17 143.04 L99.03 146.41 L100 150 L101.08 153.82 L102.2 157.73 L103.36 161.69 L104.54 165.62 L105.72 169.48 L106.9 173.2 L108.07 176.73 L109.2 180 L110.34 183.08 L111.51 186.05 L112.69 188.89 L113.85 191.56 L114.97 194.04 L116.02 196.29 L116.97 198.29 L117.8 200 L118.49 201.35 L119.05 202.34 L119.52 203.04 L119.91 203.53 L120.27 203.89 L120.62 204.2 L120.98 204.54 L121.4 205 L121.85 205.52 L122.28 206.02 L122.72 206.5 L123.16 206.96 L123.6 207.39 L124.05 207.81 L124.52 208.21 L125 208.6 L125.5 208.97 L126 209.33 L126.51 209.67 L127.03 209.99 L127.57 210.3 L128.12 210.59 L128.7 210.85 L129.3 211.1 L129.91 211.33 L130.51 211.53 L131.12 211.72 L131.76 211.89 L132.43 212.04 L133.15 212.17 L133.94 212.29 L134.8 212.4 L135.55 212.49 L136.09 212.55 L136.58 212.6 L137.18 212.63 L138.04 212.65 L139.32 212.67 L141.19 212.68 L143.8 212.7 L147.55 212.71 L152.46 212.72 L158.11 212.72 L164.11 212.72 L170.04 212.71 L175.49 212.71 L180.04 212.7 L183.3 212.7" fill="none" stroke="#000000" stroke-width="1.9" stroke-linejoin="round" stroke-linecap="round" />
<path d="M104 212.6 L183.3 212.6" stroke="#4cbe93" stroke-width="2.1"/>
<text x="72.5" y="30.6" font-size="12" text-anchor="start" fill="#000000" >day 1</text>
<text x="79" y="43" font-size="12" text-anchor="start" fill="#245a48" >day 6</text>
<text x="83.8" y="60.1" font-size="12" text-anchor="start" fill="#2c7a5f" >day 60</text>
<text x="85.5" y="76.7" font-size="12" text-anchor="start" fill="#4cbe93" >day 134</text>
<text x="88" y="94.4" font-size="12" text-anchor="start" fill="#86d4b5" >day 243</text>
<text x="121.5" y="192.6" font-size="11.8" text-anchor="start" fill="#000" ><tspan font-style="italic">L</tspan><tspan font-size="8.8" dy="3">ch</tspan><tspan dy="-3"> = 1 µm</tspan></text>
<text x="121.5" y="206.6" font-size="11.8" text-anchor="start" fill="#000" ><tspan font-style="italic">V</tspan><tspan font-size="8.8" dy="3">DS</tspan><tspan dy="-3"> = -1 V</tspan></text>
<rect x="-82.15" y="-23.5" width="164.3" height="47" rx="10" fill="#bab8b9" transform="translate(342.1,73.8) rotate(10.5)"/>
<rect x="-78" y="-27.5" width="156" height="55" rx="10" fill="#f1f1f1" transform="translate(338.8,139.5) rotate(10.5)"/>
<text transform="translate(310.5,40) rotate(9.8)" font-size="12" fill="#1a1a1a">forward sweep</text>
<text transform="translate(275.4,168) rotate(8.3)" font-size="12" fill="#8a8a8a">backward sweep</text>
<path d="M271.33 102.6V113.3M271.33 144.7V152.1" stroke="#000000" stroke-width="1.6"/>
<rect x="266.13" y="113.3" width="10.4" height="31.4" fill="rgba(0,0,0,0.2)" stroke="#000000" stroke-width="1.6"/>
<path d="M266.13 139.7h10.4" stroke="#000000" stroke-width="1.6"/>
<path d="M304.47 107.3V113.3M304.47 146.3V151.7" stroke="#245a48" stroke-width="1.6"/>
<rect x="299.27" y="113.3" width="10.4" height="33" fill="rgba(36,90,72,0.18)" stroke="#245a48" stroke-width="1.6"/>
<path d="M299.27 133.2h10.4" stroke="#245a48" stroke-width="1.6"/>
<path d="M337.6 115.9V129.2M337.6 161.6V162.2" stroke="#2c7a5f" stroke-width="1.6"/>
<rect x="332.4" y="129.2" width="10.4" height="32.4" fill="rgba(44,122,95,0.18)" stroke="#2c7a5f" stroke-width="1.6"/>
<path d="M332.4 149.1h10.4" stroke="#2c7a5f" stroke-width="1.6"/>
<path d="M370.73 131.4V138.7M370.73 169.9V175.9" stroke="#4cbe93" stroke-width="1.6"/>
<rect x="365.53" y="138.7" width="10.4" height="31.2" fill="rgba(76,190,147,0.2)" stroke="#4cbe93" stroke-width="1.6"/>
<path d="M365.53 159.6h10.4" stroke="#4cbe93" stroke-width="1.6"/>
<path d="M403.87 115.8V134.1M403.87 161.6V167.5" stroke="#86d4b5" stroke-width="1.6"/>
<rect x="398.67" y="134.1" width="10.4" height="27.5" fill="rgba(134,212,181,0.2)" stroke="#86d4b5" stroke-width="1.6"/>
<path d="M398.67 154h10.4" stroke="#86d4b5" stroke-width="1.6"/>
<path d="M271.33 48.9V57.3M271.33 76V79.5" stroke="#000000" stroke-width="1.6"/>
<rect x="266.13" y="57.3" width="10.4" height="18.7" fill="rgba(0,0,0,0.2)" stroke="#000000" stroke-width="1.6"/>
<path d="M304.47 45.4V52.4M304.47 76.4V82.3" stroke="#245a48" stroke-width="1.6"/>
<rect x="299.27" y="52.4" width="10.4" height="24" fill="rgba(36,90,72,0.18)" stroke="#245a48" stroke-width="1.6"/>
<path d="M299.27 62.8h10.4" stroke="#245a48" stroke-width="1.6"/>
<path d="M337.6 53.5V65.8M337.6 92.3V98.6" stroke="#2c7a5f" stroke-width="1.6"/>
<rect x="332.4" y="65.8" width="10.4" height="26.5" fill="rgba(44,122,95,0.18)" stroke="#2c7a5f" stroke-width="1.6"/>
<path d="M332.4 73.2h10.4" stroke="#2c7a5f" stroke-width="1.6"/>
<path d="M370.73 73.4V79.4M370.73 106.6V123.5" stroke="#4cbe93" stroke-width="1.6"/>
<rect x="365.53" y="79.4" width="10.4" height="27.2" fill="rgba(76,190,147,0.2)" stroke="#4cbe93" stroke-width="1.6"/>
<path d="M365.53 90.7h10.4" stroke="#4cbe93" stroke-width="1.6"/>
<path d="M403.87 46V59.9M403.87 94.7V111.2" stroke="#86d4b5" stroke-width="1.6"/>
<rect x="398.67" y="59.9" width="10.4" height="34.8" fill="rgba(134,212,181,0.2)" stroke="#86d4b5" stroke-width="1.6"/>
<path d="M398.67 70h10.4" stroke="#86d4b5" stroke-width="1.6"/>
<circle cx="271.33" cy="102.6" r="2.6" fill="#fff" stroke="#000000" stroke-width="1"/>
<circle cx="271.33" cy="110.9" r="2.6" fill="#fff" stroke="#000000" stroke-width="1"/>
<circle cx="271.33" cy="115.9" r="2.6" fill="#fff" stroke="#000000" stroke-width="1"/>
<circle cx="271.33" cy="120.4" r="2.6" fill="#fff" stroke="#000000" stroke-width="1"/>
<circle cx="271.33" cy="138.7" r="2.6" fill="#fff" stroke="#000000" stroke-width="1"/>
<circle cx="271.33" cy="141.7" r="2.6" fill="#fff" stroke="#000000" stroke-width="1"/>
<circle cx="271.33" cy="145.7" r="2.6" fill="#fff" stroke="#000000" stroke-width="1"/>
<circle cx="271.33" cy="152.1" r="2.6" fill="#fff" stroke="#000000" stroke-width="1"/>
<circle cx="304.47" cy="107.3" r="2.6" fill="#fff" stroke="#245a48" stroke-width="1"/>
<circle cx="304.47" cy="109.9" r="2.6" fill="#fff" stroke="#245a48" stroke-width="1"/>
<circle cx="304.47" cy="114.9" r="2.6" fill="#fff" stroke="#245a48" stroke-width="1"/>
<circle cx="304.47" cy="127.2" r="2.6" fill="#fff" stroke="#245a48" stroke-width="1"/>
<circle cx="304.47" cy="139.1" r="2.6" fill="#fff" stroke="#245a48" stroke-width="1"/>
<circle cx="304.47" cy="142.7" r="2.6" fill="#fff" stroke="#245a48" stroke-width="1"/>
<circle cx="304.47" cy="148.3" r="2.6" fill="#fff" stroke="#245a48" stroke-width="1"/>
<circle cx="304.47" cy="151.7" r="2.6" fill="#fff" stroke="#245a48" stroke-width="1"/>
<circle cx="337.6" cy="115.9" r="2.6" fill="#fff" stroke="#2c7a5f" stroke-width="1"/>
<circle cx="337.6" cy="133.8" r="2.6" fill="#fff" stroke="#2c7a5f" stroke-width="1"/>
<circle cx="337.6" cy="145.1" r="2.6" fill="#fff" stroke="#2c7a5f" stroke-width="1"/>
<circle cx="337.6" cy="148.7" r="2.6" fill="#fff" stroke="#2c7a5f" stroke-width="1"/>
<circle cx="337.6" cy="159.6" r="2.6" fill="#fff" stroke="#2c7a5f" stroke-width="1"/>
<circle cx="337.6" cy="162.2" r="2.6" fill="#fff" stroke="#2c7a5f" stroke-width="1"/>
<circle cx="370.73" cy="131.4" r="2.6" fill="#fff" stroke="#4cbe93" stroke-width="1"/>
<circle cx="370.73" cy="135.3" r="2.6" fill="#fff" stroke="#4cbe93" stroke-width="1"/>
<circle cx="370.73" cy="139.7" r="2.6" fill="#fff" stroke="#4cbe93" stroke-width="1"/>
<circle cx="370.73" cy="158.6" r="2.6" fill="#fff" stroke="#4cbe93" stroke-width="1"/>
<circle cx="370.73" cy="163.6" r="2.6" fill="#fff" stroke="#4cbe93" stroke-width="1"/>
<circle cx="370.73" cy="168.5" r="2.6" fill="#fff" stroke="#4cbe93" stroke-width="1"/>
<circle cx="370.73" cy="175.9" r="2.6" fill="#fff" stroke="#4cbe93" stroke-width="1"/>
<circle cx="403.87" cy="115.8" r="2.6" fill="#fff" stroke="#86d4b5" stroke-width="1"/>
<circle cx="403.87" cy="119.8" r="2.6" fill="#fff" stroke="#86d4b5" stroke-width="1"/>
<circle cx="403.87" cy="134.7" r="2.6" fill="#fff" stroke="#86d4b5" stroke-width="1"/>
<circle cx="403.87" cy="146.7" r="2.6" fill="#fff" stroke="#86d4b5" stroke-width="1"/>
<circle cx="403.87" cy="148.6" r="2.6" fill="#fff" stroke="#86d4b5" stroke-width="1"/>
<circle cx="403.87" cy="160.6" r="2.6" fill="#fff" stroke="#86d4b5" stroke-width="1"/>
<circle cx="403.87" cy="167.5" r="2.6" fill="#fff" stroke="#86d4b5" stroke-width="1"/>
<circle cx="271.33" cy="48.9" r="2.6" fill="#000000" stroke="#1a1a1a" stroke-width="1"/>
<circle cx="271.33" cy="51" r="2.6" fill="#000000" stroke="#1a1a1a" stroke-width="1"/>
<circle cx="271.33" cy="53.1" r="2.6" fill="#000000" stroke="#1a1a1a" stroke-width="1"/>
<circle cx="271.33" cy="58" r="2.6" fill="#000000" stroke="#1a1a1a" stroke-width="1"/>
<circle cx="271.33" cy="64.5" r="2.6" fill="#000000" stroke="#1a1a1a" stroke-width="1"/>
<circle cx="271.33" cy="73.9" r="2.6" fill="#000000" stroke="#1a1a1a" stroke-width="1"/>
<circle cx="271.33" cy="76" r="2.6" fill="#000000" stroke="#1a1a1a" stroke-width="1"/>
<circle cx="271.33" cy="79.5" r="2.6" fill="#000000" stroke="#1a1a1a" stroke-width="1"/>
<circle cx="304.47" cy="45.4" r="2.6" fill="#245a48" stroke="#1a1a1a" stroke-width="1"/>
<circle cx="304.47" cy="48.2" r="2.6" fill="#245a48" stroke="#1a1a1a" stroke-width="1"/>
<circle cx="304.47" cy="56.6" r="2.6" fill="#245a48" stroke="#1a1a1a" stroke-width="1"/>
<circle cx="304.47" cy="60" r="2.6" fill="#245a48" stroke="#1a1a1a" stroke-width="1"/>
<circle cx="304.47" cy="64.5" r="2.6" fill="#245a48" stroke="#1a1a1a" stroke-width="1"/>
<circle cx="304.47" cy="73.9" r="2.6" fill="#245a48" stroke="#1a1a1a" stroke-width="1"/>
<circle cx="304.47" cy="78.1" r="2.6" fill="#245a48" stroke="#1a1a1a" stroke-width="1"/>
<circle cx="304.47" cy="82.3" r="2.6" fill="#245a48" stroke="#1a1a1a" stroke-width="1"/>
<circle cx="337.6" cy="53.5" r="2.6" fill="#2c7a5f" stroke="#1a1a1a" stroke-width="1"/>
<circle cx="337.6" cy="70.2" r="2.6" fill="#2c7a5f" stroke="#1a1a1a" stroke-width="1"/>
<circle cx="337.6" cy="73.8" r="2.6" fill="#2c7a5f" stroke="#1a1a1a" stroke-width="1"/>
<circle cx="337.6" cy="89.7" r="2.6" fill="#2c7a5f" stroke="#1a1a1a" stroke-width="1"/>
<circle cx="337.6" cy="93.3" r="2.6" fill="#2c7a5f" stroke="#1a1a1a" stroke-width="1"/>
<circle cx="337.6" cy="96.3" r="2.6" fill="#2c7a5f" stroke="#1a1a1a" stroke-width="1"/>
<circle cx="337.6" cy="98.6" r="2.6" fill="#2c7a5f" stroke="#1a1a1a" stroke-width="1"/>
<circle cx="370.73" cy="73.4" r="2.6" fill="#4cbe93" stroke="#1a1a1a" stroke-width="1"/>
<circle cx="370.73" cy="75.8" r="2.6" fill="#4cbe93" stroke="#1a1a1a" stroke-width="1"/>
<circle cx="370.73" cy="78.8" r="2.6" fill="#4cbe93" stroke="#1a1a1a" stroke-width="1"/>
<circle cx="370.73" cy="88.1" r="2.6" fill="#4cbe93" stroke="#1a1a1a" stroke-width="1"/>
<circle cx="370.73" cy="94.1" r="2.6" fill="#4cbe93" stroke="#1a1a1a" stroke-width="1"/>
<circle cx="370.73" cy="103.2" r="2.6" fill="#4cbe93" stroke="#1a1a1a" stroke-width="1"/>
<circle cx="370.73" cy="105.6" r="2.6" fill="#4cbe93" stroke="#1a1a1a" stroke-width="1"/>
<circle cx="370.73" cy="123.5" r="2.6" fill="#4cbe93" stroke="#1a1a1a" stroke-width="1"/>
<circle cx="403.87" cy="46" r="2.6" fill="#86d4b5" stroke="#1a1a1a" stroke-width="1"/>
<circle cx="403.87" cy="57.9" r="2.6" fill="#86d4b5" stroke="#1a1a1a" stroke-width="1"/>
<circle cx="403.87" cy="59.9" r="2.6" fill="#86d4b5" stroke="#1a1a1a" stroke-width="1"/>
<circle cx="403.87" cy="66.8" r="2.6" fill="#86d4b5" stroke="#1a1a1a" stroke-width="1"/>
<circle cx="403.87" cy="70.8" r="2.6" fill="#86d4b5" stroke="#1a1a1a" stroke-width="1"/>
<circle cx="403.87" cy="75.4" r="2.6" fill="#86d4b5" stroke="#1a1a1a" stroke-width="1"/>
<circle cx="403.87" cy="83.7" r="2.6" fill="#86d4b5" stroke="#1a1a1a" stroke-width="1"/>
<circle cx="403.87" cy="94.3" r="2.6" fill="#86d4b5" stroke="#1a1a1a" stroke-width="1"/>
<circle cx="403.87" cy="111.2" r="2.6" fill="#86d4b5" stroke="#1a1a1a" stroke-width="1"/>
<text x="247.8" y="194.5" font-size="11.8" text-anchor="start" fill="#000" ><tspan font-style="italic">L</tspan><tspan font-size="8.8" dy="3">ch</tspan><tspan dy="-3"> = 1 µm</tspan></text>
<text x="247.8" y="208.5" font-size="11.8" text-anchor="start" fill="#000" ><tspan font-style="italic">V</tspan><tspan font-size="8.8" dy="3">DS</tspan><tspan dy="-3"> = -1 V</tspan></text>
<rect x="-83.3" y="-32" width="166.6" height="64" rx="12" fill="#bab8b9" transform="translate(584.1,76.6) rotate(4.4)"/>
<rect x="-79.65" y="-26.45" width="159.3" height="52.9" rx="12" fill="#f1f1f1" transform="translate(586.4,142.6) rotate(4.4)"/>
<path d="M518.05 113.5V118.3M518.05 136.8V156.7" stroke="#000000" stroke-width="1.6"/>
<rect x="512.85" y="118.3" width="10.4" height="18.5" fill="rgba(0,0,0,0.2)" stroke="#000000" stroke-width="2"/>
<path d="M512.85 127h10.4" stroke="#000000" stroke-width="1.6"/>
<path d="M551.1 121.5V124.3M551.1 139.8V152.7" stroke="#245a48" stroke-width="1.6"/>
<rect x="545.9" y="124.3" width="10.4" height="15.5" fill="rgba(36,90,72,0.18)" stroke="#245a48" stroke-width="1.6"/>
<path d="M545.9 131.2h10.4" stroke="#245a48" stroke-width="1.6"/>
<path d="M584.15 121V130.2M584.15 146.9V175.4" stroke="#2c7a5f" stroke-width="1.6"/>
<rect x="578.95" y="130.2" width="10.4" height="16.7" fill="rgba(44,122,95,0.18)" stroke="#2c7a5f" stroke-width="1.6"/>
<path d="M578.95 138h10.4" stroke="#2c7a5f" stroke-width="1.6"/>
<path d="M617.2 135.4V135.4M617.2 146.9V154.4" stroke="#4cbe93" stroke-width="1.6"/>
<rect x="612" y="135.4" width="10.4" height="11.5" fill="rgba(76,190,147,0.55)" stroke="#4cbe93" stroke-width="1.6"/>
<path d="M612 141h10.4" stroke="#4cbe93" stroke-width="1.6"/>
<path d="M650.25 130.2V135.4M650.25 150.8V183.4" stroke="#86d4b5" stroke-width="1.6"/>
<rect x="645.05" y="135.4" width="10.4" height="15.4" fill="rgba(134,212,181,0.2)" stroke="#86d4b5" stroke-width="1.6"/>
<path d="M645.05 141h10.4" stroke="#86d4b5" stroke-width="1.6"/>
<path d="M518.05 45.2V59.8M518.05 73.7V105.5" stroke="#000000" stroke-width="1.6"/>
<rect x="512.85" y="59.8" width="10.4" height="13.9" fill="rgba(0,0,0,0.2)" stroke="#000000" stroke-width="2"/>
<path d="M512.85 67.1h10.4" stroke="#000000" stroke-width="1.6"/>
<path d="M551.1 47.2V59.7M551.1 73.6V90.1" stroke="#245a48" stroke-width="1.6"/>
<rect x="545.9" y="59.7" width="10.4" height="13.9" fill="rgba(36,90,72,0.18)" stroke="#245a48" stroke-width="1.6"/>
<path d="M545.9 66.5h10.4" stroke="#245a48" stroke-width="1.6"/>
<path d="M584.15 50.4V68.3M584.15 85.6V175.4" stroke="#2c7a5f" stroke-width="1.6"/>
<rect x="578.95" y="68.3" width="10.4" height="17.3" fill="rgba(44,122,95,0.18)" stroke="#2c7a5f" stroke-width="1.6"/>
<path d="M578.95 75.5h10.4" stroke="#2c7a5f" stroke-width="1.6"/>
<path d="M617.2 78.2V78.2M617.2 92.9V92.9" stroke="#4cbe93" stroke-width="1.6"/>
<rect x="612" y="78.2" width="10.4" height="14.7" fill="rgba(76,190,147,0.2)" stroke="#4cbe93" stroke-width="1.6"/>
<path d="M612 84.5h10.4" stroke="#4cbe93" stroke-width="1.6"/>
<path d="M650.25 77.2V77.2M650.25 88.6V88.6" stroke="#86d4b5" stroke-width="1.6"/>
<rect x="645.05" y="77.2" width="10.4" height="11.4" fill="rgba(134,212,181,0.2)" stroke="#86d4b5" stroke-width="1.6"/>
<path d="M645.05 81h10.4" stroke="#86d4b5" stroke-width="1.6"/>
<circle cx="518.05" cy="113.5" r="2.6" fill="#fff" stroke="#000000" stroke-width="1"/>
<circle cx="518.05" cy="119.9" r="2.6" fill="#fff" stroke="#000000" stroke-width="1"/>
<circle cx="518.05" cy="123.5" r="2.6" fill="#fff" stroke="#000000" stroke-width="1"/>
<circle cx="518.05" cy="126.8" r="2.6" fill="#fff" stroke="#000000" stroke-width="1"/>
<circle cx="518.05" cy="130.8" r="2.6" fill="#fff" stroke="#000000" stroke-width="1"/>
<circle cx="518.05" cy="147.7" r="2.6" fill="#fff" stroke="#000000" stroke-width="1"/>
<circle cx="518.05" cy="156.7" r="2.6" fill="#fff" stroke="#000000" stroke-width="1"/>
<circle cx="551.1" cy="121.5" r="2.6" fill="#fff" stroke="#245a48" stroke-width="1"/>
<circle cx="551.1" cy="125.4" r="2.6" fill="#fff" stroke="#245a48" stroke-width="1"/>
<circle cx="551.1" cy="131.2" r="2.6" fill="#fff" stroke="#245a48" stroke-width="1"/>
<circle cx="551.1" cy="136.8" r="2.6" fill="#fff" stroke="#245a48" stroke-width="1"/>
<circle cx="551.1" cy="142.7" r="2.6" fill="#fff" stroke="#245a48" stroke-width="1"/>
<circle cx="551.1" cy="152.7" r="2.6" fill="#fff" stroke="#245a48" stroke-width="1"/>
<circle cx="584.15" cy="125.6" r="2.6" fill="#fff" stroke="#2c7a5f" stroke-width="1"/>
<circle cx="584.15" cy="129.3" r="2.6" fill="#fff" stroke="#2c7a5f" stroke-width="1"/>
<circle cx="584.15" cy="133.2" r="2.6" fill="#fff" stroke="#2c7a5f" stroke-width="1"/>
<circle cx="584.15" cy="137" r="2.6" fill="#fff" stroke="#2c7a5f" stroke-width="1"/>
<circle cx="584.15" cy="143.9" r="2.6" fill="#fff" stroke="#2c7a5f" stroke-width="1"/>
<circle cx="584.15" cy="154.2" r="2.6" fill="#fff" stroke="#2c7a5f" stroke-width="1"/>
<circle cx="584.15" cy="175.4" r="2.6" fill="#fff" stroke="#2c7a5f" stroke-width="1"/>
<circle cx="617.2" cy="130.2" r="2.6" fill="#fff" stroke="#4cbe93" stroke-width="1"/>
<circle cx="617.2" cy="133.2" r="2.6" fill="#fff" stroke="#4cbe93" stroke-width="1"/>
<circle cx="617.2" cy="136.1" r="2.6" fill="#fff" stroke="#4cbe93" stroke-width="1"/>
<circle cx="617.2" cy="142.3" r="2.6" fill="#fff" stroke="#4cbe93" stroke-width="1"/>
<circle cx="617.2" cy="146.9" r="2.6" fill="#fff" stroke="#4cbe93" stroke-width="1"/>
<circle cx="617.2" cy="154.4" r="2.6" fill="#fff" stroke="#4cbe93" stroke-width="1"/>
<circle cx="617.2" cy="184.1" r="2.6" fill="#fff" stroke="#4cbe93" stroke-width="1"/>
<circle cx="650.25" cy="130.2" r="2.6" fill="#fff" stroke="#86d4b5" stroke-width="1"/>
<circle cx="650.25" cy="133.8" r="2.6" fill="#fff" stroke="#86d4b5" stroke-width="1"/>
<circle cx="650.25" cy="137" r="2.6" fill="#fff" stroke="#86d4b5" stroke-width="1"/>
<circle cx="650.25" cy="142.3" r="2.6" fill="#fff" stroke="#86d4b5" stroke-width="1"/>
<circle cx="650.25" cy="150.3" r="2.6" fill="#fff" stroke="#86d4b5" stroke-width="1"/>
<circle cx="650.25" cy="183.4" r="2.6" fill="#fff" stroke="#86d4b5" stroke-width="1"/>
<circle cx="518.05" cy="45.2" r="2.6" fill="#000000" stroke="#1a1a1a" stroke-width="1"/>
<circle cx="518.05" cy="57.8" r="2.6" fill="#000000" stroke="#1a1a1a" stroke-width="1"/>
<circle cx="518.05" cy="60.3" r="2.6" fill="#000000" stroke="#1a1a1a" stroke-width="1"/>
<circle cx="518.05" cy="68.3" r="2.6" fill="#000000" stroke="#1a1a1a" stroke-width="1"/>
<circle cx="518.05" cy="70.5" r="2.6" fill="#000000" stroke="#1a1a1a" stroke-width="1"/>
<circle cx="518.05" cy="87.6" r="2.6" fill="#000000" stroke="#1a1a1a" stroke-width="1"/>
<circle cx="518.05" cy="105.5" r="2.6" fill="#000000" stroke="#1a1a1a" stroke-width="1"/>
<circle cx="551.1" cy="47.2" r="2.6" fill="#245a48" stroke="#1a1a1a" stroke-width="1"/>
<circle cx="551.1" cy="60.3" r="2.6" fill="#245a48" stroke="#1a1a1a" stroke-width="1"/>
<circle cx="551.1" cy="64.7" r="2.6" fill="#245a48" stroke="#1a1a1a" stroke-width="1"/>
<circle cx="551.1" cy="69.1" r="2.6" fill="#245a48" stroke="#1a1a1a" stroke-width="1"/>
<circle cx="551.1" cy="75.6" r="2.6" fill="#245a48" stroke="#1a1a1a" stroke-width="1"/>
<circle cx="551.1" cy="90.1" r="2.6" fill="#245a48" stroke="#1a1a1a" stroke-width="1"/>
<circle cx="584.15" cy="50.4" r="2.6" fill="#2c7a5f" stroke="#1a1a1a" stroke-width="1"/>
<circle cx="584.15" cy="66.3" r="2.6" fill="#2c7a5f" stroke="#1a1a1a" stroke-width="1"/>
<circle cx="584.15" cy="69.1" r="2.6" fill="#2c7a5f" stroke="#1a1a1a" stroke-width="1"/>
<circle cx="584.15" cy="72.7" r="2.6" fill="#2c7a5f" stroke="#1a1a1a" stroke-width="1"/>
<circle cx="584.15" cy="75.6" r="2.6" fill="#2c7a5f" stroke="#1a1a1a" stroke-width="1"/>
<circle cx="584.15" cy="79" r="2.6" fill="#2c7a5f" stroke="#1a1a1a" stroke-width="1"/>
<circle cx="584.15" cy="83.6" r="2.6" fill="#2c7a5f" stroke="#1a1a1a" stroke-width="1"/>
<circle cx="584.15" cy="91.5" r="2.6" fill="#2c7a5f" stroke="#1a1a1a" stroke-width="1"/>
<circle cx="617.2" cy="58.3" r="2.6" fill="#4cbe93" stroke="#1a1a1a" stroke-width="1"/>
<circle cx="617.2" cy="74.2" r="2.6" fill="#4cbe93" stroke="#1a1a1a" stroke-width="1"/>
<circle cx="617.2" cy="80.2" r="2.6" fill="#4cbe93" stroke="#1a1a1a" stroke-width="1"/>
<circle cx="617.2" cy="85" r="2.6" fill="#4cbe93" stroke="#1a1a1a" stroke-width="1"/>
<circle cx="617.2" cy="89.6" r="2.6" fill="#4cbe93" stroke="#1a1a1a" stroke-width="1"/>
<circle cx="617.2" cy="99.5" r="2.6" fill="#4cbe93" stroke="#1a1a1a" stroke-width="1"/>
<circle cx="650.25" cy="53.2" r="2.6" fill="#86d4b5" stroke="#1a1a1a" stroke-width="1"/>
<circle cx="650.25" cy="75" r="2.6" fill="#86d4b5" stroke="#1a1a1a" stroke-width="1"/>
<circle cx="650.25" cy="77.6" r="2.6" fill="#86d4b5" stroke="#1a1a1a" stroke-width="1"/>
<circle cx="650.25" cy="80.2" r="2.6" fill="#86d4b5" stroke="#1a1a1a" stroke-width="1"/>
<circle cx="650.25" cy="83.6" r="2.6" fill="#86d4b5" stroke="#1a1a1a" stroke-width="1"/>
<circle cx="650.25" cy="88.2" r="2.6" fill="#86d4b5" stroke="#1a1a1a" stroke-width="1"/>
<circle cx="650.25" cy="95.5" r="2.6" fill="#86d4b5" stroke="#1a1a1a" stroke-width="1"/>
<circle cx="584.15" cy="121" r="2.4" fill="#2c7a5f" stroke="#1a1a1a" stroke-width="1"/>
<circle cx="617.2" cy="146.9" r="2.4" fill="#4cbe93" stroke="#1a1a1a" stroke-width="1"/>
<text x="495.9" y="194.6" font-size="11.8" text-anchor="start" fill="#000" ><tspan font-style="italic">L</tspan><tspan font-size="8.8" dy="3">ch</tspan><tspan dy="-3"> = 1 µm</tspan></text>
<text x="495.9" y="208.6" font-size="11.8" text-anchor="start" fill="#000" ><tspan font-style="italic">V</tspan><tspan font-size="8.8" dy="3">DS</tspan><tspan dy="-3"> = -1 V</tspan></text>
<text x="626.5" y="36" font-size="12" text-anchor="start" fill="#000" ><tspan font-style="italic">I</tspan><tspan font-size="7.8" dy="2.5">D,max</tspan></text>
<path d="M621.3 38.9 Q615.5 38.6 611.8 42.3" fill="none" stroke="#1a1a1a" stroke-width="1.8"/>
<path d="M606.6 47.4 L608.9 39.3 L614.8 44.9 Z" fill="#1a1a1a"/>
<text x="579.3" y="197.2" font-size="11.7" text-anchor="start" fill="#8a8a8a" ><tspan font-style="italic">I</tspan><tspan font-size="8.6" dy="2.5">on</tspan><tspan dy="-2.5"> at </tspan><tspan font-style="italic">V</tspan><tspan font-size="8.6" dy="2.5">ov</tspan><tspan dy="-2.5"> = 1.5 V</tspan></text>
<path d="M580.7 185 Q575.5 182 574.9 176" fill="none" stroke="#8a8a8a" stroke-width="1.7"/>
<path d="M575.1 168.8 L570.6 177.3 L579.2 177.1 Z" fill="#8a8a8a"/>
<g clip-path="url(#clipD)">
<path d="M80 322.6 L80.45 322.95 L81.06 323.4 L81.78 323.93 L82.58 324.54 L83.42 325.19 L84.28 325.88 L85.12 326.59 L85.9 327.3 L86.65 328.01 L87.39 328.72 L88.14 329.46 L88.89 330.22 L89.65 331.04 L90.4 331.92 L91.15 332.87 L91.9 333.9 L92.66 335.04 L93.43 336.28 L94.21 337.61 L94.98 338.99 L95.75 340.4 L96.49 341.82 L97.21 343.23 L97.9 344.6 L98.55 345.95 L99.18 347.3 L99.78 348.65 L100.36 350 L100.93 351.35 L101.49 352.7 L102.05 354.05 L102.6 355.4 L103.16 356.74 L103.71 358.09 L104.26 359.43 L104.81 360.77 L105.33 362.11 L105.85 363.45 L106.34 364.78 L106.8 366.1 L107.2 367.32 L107.54 368.41 L107.83 369.45 L108.11 370.5 L108.42 371.65 L108.78 372.99 L109.23 374.58 L109.8 376.5 L110.5 378.77 L111.3 381.3 L112.19 384.07 L113.14 387.02 L114.12 390.14 L115.1 393.36 L116.07 396.66 L117 400 L117.92 403.51 L118.88 407.28 L119.85 411.21 L120.81 415.22 L121.75 419.2 L122.64 423.05 L123.46 426.68 L124.2 430 L124.85 433 L125.42 435.76 L125.93 438.34 L126.39 440.78 L126.82 443.12 L127.22 445.41 L127.61 447.69 L128 450 L128.39 452.43 L128.77 454.96 L129.14 457.51 L129.49 460 L129.8 462.33 L130.08 464.41 L130.32 466.17 L130.5 467.5" fill="none" stroke="#000000" stroke-width="2.6" stroke-linejoin="round" stroke-linecap="round" />
<path d="M80 322.6 L80.22 322.96 L80.51 323.4 L80.86 323.9 L81.24 324.5 L81.66 325.19 L82.1 325.98 L82.55 326.88 L83 327.9 L83.46 329.08 L83.93 330.43 L84.43 331.91 L84.94 333.49 L85.46 335.11 L86 336.75 L86.55 338.36 L87.1 339.9 L87.67 341.39 L88.28 342.88 L88.9 344.37 L89.53 345.86 L90.16 347.34 L90.77 348.83 L91.35 350.31 L91.9 351.8 L92.41 353.29 L92.91 354.77 L93.38 356.26 L93.83 357.74 L94.27 359.23 L94.69 360.72 L95.1 362.21 L95.5 363.7 L95.86 365.11 L96.17 366.4 L96.45 367.65 L96.72 368.92 L97.01 370.29 L97.34 371.83 L97.73 373.61 L98.2 375.7 L98.77 378.11 L99.42 380.78 L100.14 383.66 L100.89 386.72 L101.66 389.93 L102.43 393.24 L103.19 396.61 L103.9 400 L104.59 403.55 L105.29 407.33 L105.98 411.27 L106.67 415.27 L107.34 419.23 L107.99 423.07 L108.61 426.69 L109.2 430 L109.76 433 L110.29 435.76 L110.79 438.34 L111.27 440.78 L111.74 443.12 L112.18 445.41 L112.6 447.69 L113 450 L113.39 452.43 L113.77 454.96 L114.14 457.51 L114.49 460 L114.8 462.33 L115.08 464.41 L115.32 466.17 L115.5 467.5" fill="none" stroke="#000000" stroke-width="2.6" stroke-linejoin="round" stroke-linecap="round" />
<path d="M128 467.5 L128.63 465.32 L129.48 462.36 L130.5 458.83 L131.62 454.94 L132.79 450.9 L133.95 446.92 L135.04 443.22 L136 440 L136.86 437.18 L137.68 434.51 L138.46 431.99 L139.22 429.59 L139.95 427.31 L140.65 425.13 L141.34 423.03 L142 421 L142.62 419.1 L143.2 417.38 L143.73 415.77 L144.25 414.25 L144.77 412.76 L145.3 411.25 L145.88 409.68 L146.5 408 L147.17 406.23 L147.86 404.44 L148.57 402.61 L149.31 400.75 L150.07 398.86 L150.86 396.94 L151.67 394.98 L152.5 393 L153.36 390.95 L154.26 388.82 L155.18 386.64 L156.12 384.44 L157.08 382.24 L158.05 380.09 L159.03 378 L160 376 L160.97 374.09 L161.93 372.22 L162.9 370.4 L163.88 368.62 L164.87 366.9 L165.88 365.22 L166.92 363.59 L168 362 L169.18 360.41 L170.49 358.78 L171.87 357.17 L173.25 355.62 L174.57 354.19 L175.76 352.91 L176.76 351.83 L177.5 351" fill="none" stroke="#000000" stroke-width="2.6" stroke-linejoin="round" stroke-linecap="round" />
<path d="M177.5 351 L177.45 351.42 L177.42 351.93 L177.39 352.53 L177.33 353.22 L177.23 354.02 L177.08 354.91 L176.84 355.9 L176.5 357 L176.05 358.22 L175.5 359.55 L174.87 361 L174.18 362.54 L173.44 364.16 L172.69 365.85 L171.93 367.61 L171.2 369.4 L170.47 371.26 L169.72 373.2 L168.95 375.21 L168.17 377.29 L167.39 379.41 L166.59 381.58 L165.8 383.78 L165 386 L164.19 388.26 L163.36 390.58 L162.52 392.95 L161.68 395.35 L160.84 397.77 L160.03 400.19 L159.24 402.61 L158.5 405 L157.8 407.36 L157.13 409.7 L156.49 412.04 L155.88 414.38 L155.27 416.73 L154.68 419.11 L154.09 421.53 L153.5 424 L152.91 426.52 L152.33 429.07 L151.75 431.66 L151.19 434.28 L150.63 436.93 L150.08 439.6 L149.54 442.29 L149 445 L148.45 447.89 L147.87 451.05 L147.29 454.32 L146.72 457.56 L146.19 460.64 L145.71 463.42 L145.31 465.75 L145 467.5" fill="none" stroke="#000000" stroke-width="2.6" stroke-linejoin="round" stroke-linecap="round" />
<path d="M80 333.9 L80.55 334.52 L81.27 335.33 L82.14 336.28 L83.1 337.36 L84.12 338.52 L85.15 339.76 L86.16 341.03 L87.1 342.3 L88 343.62 L88.92 345.03 L89.85 346.51 L90.77 348.03 L91.68 349.58 L92.58 351.14 L93.46 352.69 L94.3 354.2 L95.12 355.7 L95.93 357.23 L96.72 358.76 L97.49 360.29 L98.24 361.81 L98.96 363.29 L99.65 364.72 L100.3 366.1 L100.87 367.31 L101.36 368.32 L101.79 369.22 L102.2 370.12 L102.63 371.12 L103.12 372.32 L103.69 373.81 L104.4 375.7 L105.25 378 L106.23 380.61 L107.29 383.49 L108.41 386.57 L109.55 389.82 L110.68 393.18 L111.78 396.59 L112.8 400 L113.78 403.55 L114.75 407.33 L115.71 411.27 L116.64 415.27 L117.55 419.23 L118.42 423.07 L119.24 426.69 L120 430 L120.71 433 L121.36 435.76 L121.97 438.34 L122.54 440.78 L123.08 443.12 L123.58 445.41 L124.05 447.69 L124.5 450 L124.93 452.43 L125.32 454.96 L125.69 457.51 L126.03 460 L126.33 462.33 L126.6 464.41 L126.82 466.17 L127 467.5" fill="none" stroke="#b9552c" stroke-width="2.6" stroke-linejoin="round" stroke-linecap="round" />
<path d="M80 333.9 L80.26 334.52 L80.6 335.3 L81 336.23 L81.45 337.28 L81.94 338.44 L82.45 339.67 L82.98 340.97 L83.5 342.3 L84.04 343.7 L84.61 345.22 L85.2 346.82 L85.82 348.48 L86.44 350.19 L87.07 351.93 L87.69 353.67 L88.3 355.4 L88.9 357.12 L89.5 358.87 L90.1 360.63 L90.69 362.41 L91.29 364.21 L91.89 366.03 L92.5 367.86 L93.1 369.7 L93.7 371.57 L94.3 373.46 L94.9 375.38 L95.51 377.31 L96.11 379.24 L96.73 381.17 L97.36 383.1 L98 385 L98.66 386.79 L99.34 388.42 L100.04 389.99 L100.74 391.58 L101.45 393.29 L102.15 395.2 L102.83 397.41 L103.5 400 L104.16 403.1 L104.83 406.68 L105.5 410.59 L106.16 414.69 L106.79 418.82 L107.4 422.85 L107.97 426.63 L108.5 430 L108.97 433 L109.4 435.76 L109.79 438.34 L110.16 440.78 L110.5 443.12 L110.83 445.41 L111.16 447.69 L111.5 450 L111.85 452.43 L112.22 454.96 L112.58 457.51 L112.94 460 L113.27 462.33 L113.56 464.41 L113.81 466.17 L114 467.5" fill="none" stroke="#b9552c" stroke-width="2.6" stroke-linejoin="round" stroke-linecap="round" />
<path d="M125 467.5 L125.71 465.33 L126.68 462.39 L127.83 458.89 L129.09 455.03 L130.41 451 L131.71 447.02 L132.93 443.29 L134 440 L134.95 437.06 L135.85 434.22 L136.71 431.49 L137.53 428.87 L138.32 426.37 L139.07 423.99 L139.8 421.73 L140.5 419.6 L141.15 417.69 L141.73 416.02 L142.27 414.52 L142.78 413.12 L143.29 411.74 L143.82 410.31 L144.38 408.76 L145 407 L145.67 405.05 L146.37 402.97 L147.1 400.8 L147.84 398.56 L148.61 396.28 L149.39 393.99 L150.19 391.72 L151 389.5 L151.82 387.31 L152.64 385.11 L153.49 382.92 L154.34 380.72 L155.22 378.53 L156.12 376.34 L157.05 374.16 L158 372 L159.01 369.79 L160.08 367.49 L161.19 365.17 L162.31 362.88 L163.43 360.66 L164.52 358.57 L165.55 356.67 L166.5 355 L167.38 353.59 L168.2 352.39 L168.98 351.36 L169.72 350.47 L170.43 349.68 L171.13 348.94 L171.81 348.23 L172.5 347.5 L173.21 346.76 L173.94 346.06 L174.67 345.4 L175.38 344.78 L176.04 344.23 L176.62 343.74 L177.12 343.33 L177.5 343" fill="none" stroke="#b9552c" stroke-width="2.6" stroke-linejoin="round" stroke-linecap="round" />
<path d="M177.5 343 L177.49 343.69 L177.52 344.57 L177.56 345.6 L177.57 346.78 L177.54 348.08 L177.42 349.48 L177.18 350.96 L176.8 352.5 L176.24 354.13 L175.53 355.89 L174.71 357.76 L173.79 359.72 L172.83 361.74 L171.86 363.81 L170.9 365.9 L170 368 L169.13 370.13 L168.24 372.32 L167.35 374.57 L166.45 376.84 L165.56 379.14 L164.68 381.44 L163.83 383.73 L163 386 L162.19 388.26 L161.39 390.52 L160.61 392.79 L159.84 395.06 L159.1 397.32 L158.37 399.57 L157.67 401.8 L157 404 L156.37 406.15 L155.77 408.25 L155.2 410.32 L154.66 412.38 L154.12 414.45 L153.59 416.56 L153.05 418.74 L152.5 421 L151.94 423.31 L151.39 425.64 L150.83 427.99 L150.28 430.41 L149.72 432.89 L149.16 435.47 L148.59 438.17 L148 441 L147.36 444.18 L146.67 447.79 L145.94 451.63 L145.22 455.5 L144.53 459.22 L143.91 462.59 L143.39 465.41 L143 467.5" fill="none" stroke="#b9552c" stroke-width="2.6" stroke-linejoin="round" stroke-linecap="round" />
<path d="M80 347 L80.65 347.72 L81.53 348.67 L82.58 349.8 L83.74 351.06 L84.95 352.41 L86.15 353.81 L87.29 355.22 L88.3 356.6 L89.22 357.97 L90.1 359.38 L90.97 360.82 L91.8 362.31 L92.61 363.82 L93.4 365.36 L94.16 366.92 L94.9 368.5 L95.61 370.08 L96.27 371.66 L96.9 373.25 L97.51 374.87 L98.11 376.54 L98.72 378.27 L99.34 380.09 L100 382 L100.66 383.95 L101.31 385.9 L101.95 387.89 L102.61 389.97 L103.3 392.17 L104.04 394.55 L104.83 397.15 L105.7 400 L106.69 403.24 L107.79 406.89 L108.98 410.81 L110.2 414.88 L111.41 418.96 L112.58 422.92 L113.66 426.65 L114.6 430 L115.41 433 L116.13 435.76 L116.77 438.34 L117.36 440.78 L117.9 443.12 L118.43 445.41 L118.96 447.69 L119.5 450 L120.07 452.43 L120.66 454.96 L121.24 457.51 L121.81 460 L122.33 462.33 L122.8 464.41 L123.2 466.17 L123.5 467.5" fill="none" stroke="#f4713a" stroke-width="2.6" stroke-linejoin="round" stroke-linecap="round" />
<path d="M80 347 L80.17 347.62 L80.38 348.43 L80.62 349.38 L80.91 350.46 L81.23 351.62 L81.58 352.86 L81.97 354.13 L82.4 355.4 L82.89 356.74 L83.45 358.21 L84.07 359.76 L84.71 361.35 L85.36 362.94 L85.99 364.49 L86.58 365.96 L87.1 367.3 L87.54 368.41 L87.9 369.27 L88.22 370.01 L88.52 370.73 L88.83 371.54 L89.18 372.56 L89.59 373.91 L90.1 375.7 L90.7 377.94 L91.36 380.52 L92.08 383.4 L92.84 386.5 L93.63 389.77 L94.45 393.15 L95.27 396.58 L96.1 400 L96.96 403.55 L97.86 407.33 L98.8 411.27 L99.75 415.27 L100.69 419.23 L101.61 423.07 L102.49 426.69 L103.3 430 L104.06 433 L104.78 435.76 L105.47 438.34 L106.13 440.78 L106.76 443.12 L107.37 445.41 L107.95 447.69 L108.5 450 L109.04 452.43 L109.58 454.96 L110.09 457.51 L110.58 460 L111.02 462.33 L111.41 464.41 L111.74 466.17 L112 467.5" fill="none" stroke="#f4713a" stroke-width="2.6" stroke-linejoin="round" stroke-linecap="round" />
<path d="M123.5 467.5 L124.21 465.33 L125.18 462.39 L126.33 458.89 L127.59 455.03 L128.91 451 L130.21 447.02 L131.43 443.29 L132.5 440 L133.45 437.06 L134.35 434.22 L135.21 431.49 L136.04 428.87 L136.83 426.37 L137.58 423.99 L138.31 421.73 L139 419.6 L139.64 417.69 L140.2 416.03 L140.72 414.54 L141.21 413.14 L141.7 411.77 L142.22 410.34 L142.77 408.78 L143.4 407 L144.09 405.02 L144.82 402.9 L145.58 400.68 L146.37 398.38 L147.19 396.05 L148.02 393.7 L148.86 391.37 L149.7 389.1 L150.55 386.86 L151.4 384.62 L152.26 382.39 L153.14 380.15 L154.04 377.91 L154.96 375.68 L155.91 373.44 L156.9 371.2 L157.95 368.89 L159.07 366.49 L160.23 364.04 L161.41 361.62 L162.59 359.27 L163.73 357.06 L164.81 355.05 L165.8 353.3 L166.71 351.82 L167.56 350.57 L168.35 349.51 L169.11 348.59 L169.84 347.78 L170.56 347.02 L171.28 346.27 L172 345.5 L172.76 344.71 L173.55 343.94 L174.36 343.2 L175.14 342.51 L175.87 341.89 L176.53 341.33 L177.08 340.87 L177.5 340.5" fill="none" stroke="#f4713a" stroke-width="2.6" stroke-linejoin="round" stroke-linecap="round" />
<path d="M177.5 340.5 L177.47 341.23 L177.48 342.16 L177.5 343.25 L177.49 344.5 L177.42 345.87 L177.28 347.34 L177.01 348.89 L176.6 350.5 L176.02 352.2 L175.28 354.03 L174.43 355.97 L173.49 358 L172.5 360.09 L171.5 362.22 L170.52 364.36 L169.6 366.5 L168.71 368.66 L167.81 370.86 L166.91 373.11 L166 375.39 L165.1 377.68 L164.21 379.97 L163.35 382.25 L162.5 384.5 L161.67 386.74 L160.85 388.97 L160.03 391.19 L159.24 393.42 L158.46 395.64 L157.71 397.86 L156.99 400.08 L156.3 402.3 L155.66 404.5 L155.06 406.68 L154.49 408.84 L153.94 411.01 L153.41 413.2 L152.89 415.42 L152.35 417.68 L151.8 420 L151.24 422.34 L150.69 424.66 L150.15 427 L149.6 429.39 L149.05 431.85 L148.48 434.42 L147.9 437.13 L147.3 440 L146.64 443.27 L145.91 446.99 L145.14 450.97 L144.37 455 L143.63 458.87 L142.97 462.38 L142.41 465.33 L142 467.5" fill="none" stroke="#f4713a" stroke-width="2.6" stroke-linejoin="round" stroke-linecap="round" />
<path d="M80 354.2 L80.56 355.13 L81.33 356.39 L82.24 357.89 L83.25 359.55 L84.29 361.28 L85.32 363.01 L86.27 364.64 L87.1 366.1 L87.8 367.31 L88.43 368.32 L89.01 369.22 L89.56 370.12 L90.11 371.12 L90.66 372.32 L91.25 373.81 L91.9 375.7 L92.59 378 L93.31 380.61 L94.05 383.49 L94.81 386.57 L95.59 389.82 L96.38 393.18 L97.19 396.59 L98 400 L98.85 403.55 L99.76 407.33 L100.69 411.27 L101.63 415.27 L102.56 419.23 L103.44 423.07 L104.26 426.69 L105 430 L105.65 433 L106.23 435.76 L106.76 438.34 L107.25 440.78 L107.71 443.12 L108.14 445.41 L108.57 447.69 L109 450 L109.44 452.43 L109.89 454.96 L110.33 457.51 L110.75 460 L111.14 462.33 L111.48 464.41 L111.78 466.17 L112 467.5" fill="none" stroke="#f8ab8a" stroke-width="2.6" stroke-linejoin="round" stroke-linecap="round" />
<path d="M80 354.2 L80.13 354.95 L80.3 355.98 L80.5 357.21 L80.73 358.56 L80.98 359.95 L81.24 361.33 L81.52 362.6 L81.8 363.7 L82.06 364.48 L82.29 364.94 L82.51 365.26 L82.76 365.57 L83.06 366.04 L83.43 366.83 L83.9 368.1 L84.5 370 L85.24 372.62 L86.12 375.83 L87.09 379.51 L88.14 383.52 L89.24 387.71 L90.35 391.94 L91.44 396.09 L92.5 400 L93.55 403.82 L94.65 407.73 L95.77 411.69 L96.88 415.62 L97.97 419.48 L99.02 423.2 L100.01 426.73 L100.9 430 L101.7 433 L102.42 435.76 L103.08 438.34 L103.69 440.78 L104.28 443.12 L104.84 445.41 L105.41 447.69 L106 450 L106.62 452.43 L107.27 454.96 L107.93 457.51 L108.57 460 L109.17 462.33 L109.71 464.41 L110.16 466.17 L110.5 467.5" fill="none" stroke="#f8ab8a" stroke-width="2.6" stroke-linejoin="round" stroke-linecap="round" />
<path d="M124 467.5 L124.71 465.33 L125.68 462.39 L126.83 458.89 L128.09 455.03 L129.41 451 L130.71 447.02 L131.93 443.29 L133 440 L133.95 437.06 L134.85 434.22 L135.71 431.49 L136.53 428.87 L137.32 426.37 L138.07 423.99 L138.8 421.73 L139.5 419.6 L140.15 417.69 L140.73 416.03 L141.26 414.54 L141.77 413.14 L142.28 411.77 L142.8 410.34 L143.37 408.78 L144 407 L144.69 405.02 L145.41 402.9 L146.16 400.68 L146.93 398.38 L147.73 396.05 L148.54 393.7 L149.37 391.37 L150.2 389.1 L151.04 386.86 L151.89 384.62 L152.75 382.39 L153.63 380.15 L154.53 377.91 L155.46 375.68 L156.41 373.44 L157.4 371.2 L158.45 368.9 L159.57 366.5 L160.73 364.07 L161.91 361.65 L163.09 359.31 L164.23 357.1 L165.31 355.08 L166.3 353.3 L167.21 351.79 L168.07 350.5 L168.88 349.38 L169.64 348.41 L170.38 347.52 L171.1 346.69 L171.8 345.86 L172.5 345 L173.22 344.1 L173.95 343.2 L174.68 342.32 L175.39 341.48 L176.04 340.71 L176.63 340.02 L177.12 339.45 L177.5 339" fill="none" stroke="#f8ab8a" stroke-width="2.6" stroke-linejoin="round" stroke-linecap="round" />
<path d="M177.5 339 L177.47 339.79 L177.49 340.8 L177.51 341.99 L177.5 343.34 L177.44 344.82 L177.29 346.39 L177.02 348.03 L176.6 349.7 L176 351.44 L175.24 353.3 L174.36 355.26 L173.39 357.3 L172.38 359.39 L171.35 361.52 L170.34 363.66 L169.4 365.8 L168.49 367.95 L167.58 370.15 L166.66 372.38 L165.74 374.64 L164.83 376.91 L163.93 379.18 L163.05 381.45 L162.2 383.7 L161.37 385.94 L160.54 388.17 L159.73 390.41 L158.93 392.64 L158.16 394.88 L157.41 397.12 L156.69 399.36 L156 401.6 L155.36 403.83 L154.76 406.04 L154.19 408.24 L153.64 410.44 L153.11 412.67 L152.59 414.93 L152.05 417.23 L151.5 419.6 L150.94 421.99 L150.4 424.36 L149.86 426.76 L149.31 429.21 L148.76 431.72 L148.2 434.34 L147.61 437.09 L147 440 L146.32 443.29 L145.57 447.02 L144.77 451 L143.97 455.02 L143.2 458.89 L142.51 462.39 L141.93 465.33 L141.5 467.5" fill="none" stroke="#f8ab8a" stroke-width="2.6" stroke-linejoin="round" stroke-linecap="round" />
</g>
<defs><clipPath id="clipD"><rect x="56.5" y="266.3" width="145.3" height="200.7"/></clipPath><clipPath id="clipE"><rect x="264.2" y="266.2" width="145.60000000000002" height="200.39999999999998"/></clipPath></defs>
<text x="66.9" y="280.9" font-size="12" text-anchor="start" fill="#000" >Undoped WSe<tspan font-size="9" dy="2.5">2</tspan></text>
<text x="89.4" y="322.7" font-size="12" text-anchor="start" fill="#000" >Initial</text>
<text x="98.7" y="346.1" font-size="12" text-anchor="start" fill="#b9552c" >100°C</text>
<text x="105.3" y="364.6" font-size="12" text-anchor="start" fill="#f4713a" >150°C</text>
<text x="61" y="406.5" font-size="12" text-anchor="start" fill="#f8ab8a" >200°C</text>
<g clip-path="url(#clipE)">
<path d="M287.6 292.9 L289.19 293.07 L291.34 293.27 L293.9 293.51 L296.73 293.79 L299.68 294.12 L302.61 294.51 L305.36 294.97 L307.8 295.5 L309.99 296.1 L312.09 296.76 L314.11 297.48 L316.06 298.26 L317.95 299.1 L319.78 300.03 L321.56 301.02 L323.3 302.1 L324.99 303.28 L326.63 304.58 L328.22 305.97 L329.75 307.42 L331.22 308.91 L332.64 310.42 L334 311.93 L335.3 313.4 L336.52 314.83 L337.66 316.22 L338.74 317.61 L339.76 319.01 L340.74 320.46 L341.7 321.97 L342.65 323.58 L343.6 325.3 L344.54 327.15 L345.45 329.11 L346.33 331.15 L347.2 333.27 L348.06 335.43 L348.93 337.62 L349.8 339.82 L350.7 342 L351.63 344.17 L352.57 346.36 L353.54 348.57 L354.5 350.79 L355.46 353.05 L356.4 355.33 L357.32 357.65 L358.2 360 L359.05 362.4 L359.89 364.86 L360.71 367.35 L361.51 369.88 L362.29 372.41 L363.04 374.95 L363.78 377.49 L364.5 380 L365.17 382.43 L365.79 384.77 L366.38 387.06 L366.96 389.38 L367.54 391.77 L368.14 394.3 L368.79 397.02 L369.5 400 L370.3 403.34 L371.19 407.03 L372.13 410.96 L373.09 415 L374.04 419.04 L374.95 422.97 L375.78 426.66 L376.5 430 L377.12 433 L377.67 435.76 L378.16 438.34 L378.59 440.78 L378.99 443.12 L379.35 445.41 L379.68 447.69 L380 450 L380.29 452.43 L380.55 454.96 L380.77 457.51 L380.97 460 L381.14 462.33 L381.28 464.41 L381.4 466.17 L381.5 467.5" fill="none" stroke="#000000" stroke-width="2.1" stroke-linejoin="round" stroke-linecap="round" />
<path d="M287.6 292.9 L289.21 293.17 L291.42 293.5 L294.06 293.9 L296.95 294.35 L299.94 294.86 L302.85 295.42 L305.53 296.04 L307.8 296.7 L309.71 297.41 L311.44 298.15 L313.01 298.94 L314.47 299.79 L315.84 300.71 L317.17 301.69 L318.48 302.75 L319.8 303.9 L321.12 305.15 L322.41 306.52 L323.65 307.97 L324.86 309.48 L326.02 311.04 L327.15 312.63 L328.24 314.22 L329.3 315.8 L330.32 317.38 L331.31 318.99 L332.27 320.62 L333.18 322.28 L334.06 323.93 L334.89 325.6 L335.67 327.25 L336.4 328.9 L337.06 330.5 L337.65 332.06 L338.18 333.6 L338.67 335.14 L339.14 336.73 L339.6 338.38 L340.09 340.13 L340.6 342 L341.13 344 L341.66 346.11 L342.2 348.3 L342.73 350.57 L343.28 352.89 L343.83 355.24 L344.41 357.62 L345 360 L345.63 362.4 L346.3 364.86 L346.99 367.35 L347.69 369.88 L348.39 372.41 L349.07 374.95 L349.71 377.49 L350.3 380 L350.83 382.43 L351.32 384.77 L351.77 387.06 L352.2 389.38 L352.62 391.77 L353.06 394.3 L353.51 397.02 L354 400 L354.53 403.34 L355.1 407.03 L355.69 410.96 L356.29 415 L356.89 419.04 L357.46 422.97 L358 426.66 L358.5 430 L358.96 433 L359.39 435.76 L359.8 438.34 L360.19 440.78 L360.55 443.12 L360.89 445.41 L361.21 447.69 L361.5 450 L361.77 452.43 L362.02 454.96 L362.24 457.51 L362.44 460 L362.61 462.33 L362.77 464.41 L362.89 466.17 L363 467.5" fill="none" stroke="#000000" stroke-width="2.1" stroke-linejoin="round" stroke-linecap="round" />
<path d="M287.6 297.9 L289.17 298.31 L291.28 298.81 L293.8 299.4 L296.58 300.08 L299.51 300.87 L302.44 301.76 L305.25 302.77 L307.8 303.9 L310.19 305.19 L312.58 306.65 L314.94 308.24 L317.27 309.93 L319.53 311.69 L321.7 313.47 L323.77 315.26 L325.7 317 L327.51 318.74 L329.21 320.52 L330.81 322.33 L332.32 324.15 L333.75 325.97 L335.1 327.78 L336.38 329.56 L337.6 331.3 L338.72 332.98 L339.7 334.6 L340.58 336.19 L341.41 337.77 L342.2 339.36 L343.01 340.98 L343.87 342.65 L344.8 344.4 L345.81 346.2 L346.86 348.02 L347.94 349.87 L349.04 351.77 L350.15 353.72 L351.25 355.73 L352.34 357.82 L353.4 360 L354.45 362.29 L355.51 364.69 L356.57 367.18 L357.61 369.73 L358.64 372.31 L359.63 374.9 L360.59 377.47 L361.5 380 L362.34 382.43 L363.12 384.77 L363.86 387.06 L364.57 389.38 L365.27 391.77 L365.98 394.3 L366.72 397.02 L367.5 400 L368.35 403.34 L369.25 407.03 L370.18 410.96 L371.12 415 L372.05 419.04 L372.94 422.97 L373.76 426.66 L374.5 430 L375.16 433 L375.76 435.76 L376.31 438.34 L376.81 440.78 L377.28 443.12 L377.71 445.41 L378.12 447.69 L378.5 450 L378.86 452.43 L379.19 454.96 L379.48 457.51 L379.75 460 L379.98 462.33 L380.19 464.41 L380.36 466.17 L380.5 467.5" fill="none" stroke="#b9552c" stroke-width="2.1" stroke-linejoin="round" stroke-linecap="round" />
<path d="M287.6 297.9 L288.72 298.31 L290.23 298.78 L292.02 299.35 L294.01 300.01 L296.08 300.78 L298.16 301.68 L300.13 302.71 L301.9 303.9 L303.53 305.28 L305.13 306.86 L306.7 308.6 L308.23 310.46 L309.71 312.38 L311.13 314.35 L312.5 316.3 L313.8 318.2 L315.03 320.09 L316.21 322.02 L317.33 323.98 L318.39 325.95 L319.39 327.92 L320.35 329.88 L321.25 331.81 L322.1 333.7 L322.86 335.55 L323.53 337.37 L324.12 339.16 L324.66 340.94 L325.19 342.71 L325.74 344.47 L326.33 346.24 L327 348 L327.74 349.74 L328.52 351.43 L329.33 353.1 L330.16 354.77 L331.01 356.47 L331.85 358.23 L332.69 360.06 L333.5 362 L334.3 364.04 L335.11 366.17 L335.93 368.37 L336.73 370.62 L337.53 372.93 L338.31 375.27 L339.07 377.63 L339.8 380 L340.48 382.34 L341.11 384.62 L341.71 386.91 L342.29 389.25 L342.89 391.68 L343.53 394.25 L344.22 397.01 L345 400 L345.89 403.34 L346.89 407.03 L347.95 410.96 L349.04 415 L350.13 419.04 L351.18 422.97 L352.15 426.66 L353 430 L353.75 433 L354.43 435.76 L355.05 438.34 L355.62 440.78 L356.15 443.12 L356.63 445.41 L357.08 447.69 L357.5 450 L357.88 452.43 L358.22 454.96 L358.52 457.51 L358.78 460 L359.01 462.33 L359.2 464.41 L359.36 466.17 L359.5 467.5" fill="none" stroke="#b9552c" stroke-width="2.1" stroke-linejoin="round" stroke-linecap="round" />
<path d="M288.2 308.1 L289.74 309.05 L291.82 310.3 L294.29 311.79 L297.03 313.46 L299.89 315.23 L302.73 317.06 L305.41 318.87 L307.8 320.6 L309.97 322.33 L312.1 324.16 L314.17 326.04 L316.18 327.94 L318.1 329.81 L319.94 331.62 L321.67 333.33 L323.3 334.9 L324.77 336.28 L326.08 337.47 L327.28 338.55 L328.39 339.57 L329.46 340.6 L330.55 341.71 L331.68 342.95 L332.9 344.4 L334.21 346.03 L335.55 347.77 L336.92 349.61 L338.31 351.54 L339.71 353.56 L341.09 355.65 L342.46 357.8 L343.8 360 L345.11 362.29 L346.42 364.69 L347.71 367.18 L348.99 369.73 L350.26 372.31 L351.52 374.9 L352.76 377.47 L354 380 L355.22 382.43 L356.44 384.77 L357.64 387.06 L358.82 389.38 L360 391.77 L361.18 394.3 L362.34 397.02 L363.5 400 L364.68 403.34 L365.89 407.03 L367.11 410.96 L368.31 415 L369.48 419.04 L370.58 422.97 L371.59 426.66 L372.5 430 L373.29 433 L374 435.76 L374.63 438.34 L375.19 440.78 L375.69 443.12 L376.16 445.41 L376.59 447.69 L377 450 L377.38 452.43 L377.72 454.96 L378.02 457.51 L378.28 460 L378.51 462.33 L378.7 464.41 L378.86 466.17 L379 467.5" fill="none" stroke="#f4713a" stroke-width="2.1" stroke-linejoin="round" stroke-linecap="round" />
<path d="M288.2 308.1 L289.27 309.15 L290.7 310.55 L292.41 312.21 L294.31 314.06 L296.29 316.02 L298.28 318.01 L300.18 319.97 L301.9 321.8 L303.51 323.59 L305.11 325.45 L306.71 327.33 L308.26 329.21 L309.77 331.06 L311.2 332.85 L312.55 334.54 L313.8 336.1 L314.91 337.48 L315.88 338.7 L316.75 339.8 L317.56 340.84 L318.34 341.89 L319.13 342.99 L319.97 344.21 L320.9 345.6 L321.9 347.13 L322.92 348.72 L323.98 350.4 L325.05 352.14 L326.14 353.97 L327.25 355.89 L328.37 357.9 L329.5 360 L330.66 362.23 L331.87 364.61 L333.11 367.09 L334.35 369.65 L335.58 372.25 L336.78 374.87 L337.93 377.46 L339 380 L339.98 382.43 L340.89 384.77 L341.74 387.06 L342.56 389.38 L343.38 391.77 L344.2 394.3 L345.07 397.02 L346 400 L347.02 403.34 L348.12 407.03 L349.28 410.96 L350.44 415 L351.58 419.04 L352.66 422.97 L353.64 426.66 L354.5 430 L355.23 433 L355.86 435.76 L356.42 438.34 L356.91 440.78 L357.34 443.12 L357.75 445.41 L358.13 447.69 L358.5 450 L358.86 452.43 L359.19 454.96 L359.48 457.51 L359.75 460 L359.98 462.33 L360.19 464.41 L360.36 466.17 L360.5 467.5" fill="none" stroke="#f4713a" stroke-width="2.1" stroke-linejoin="round" stroke-linecap="round" />
<path d="M288.3 370.3 L288.89 370.83 L289.68 371.54 L290.62 372.39 L291.66 373.33 L292.77 374.3 L293.89 375.27 L294.98 376.19 L296 377 L296.94 377.7 L297.84 378.34 L298.72 378.95 L299.62 379.53 L300.55 380.13 L301.54 380.75 L302.61 381.44 L303.8 382.2 L305.1 383.04 L306.5 383.94 L307.97 384.88 L309.51 385.86 L311.1 386.87 L312.72 387.9 L314.36 388.95 L316 390 L317.64 391.01 L319.31 391.96 L321 392.9 L322.71 393.88 L324.47 394.93 L326.26 396.1 L328.1 397.45 L330 399 L332.05 400.88 L334.28 403.08 L336.6 405.5 L338.95 408.01 L341.23 410.51 L343.35 412.89 L345.24 415.02 L346.8 416.8 L348.01 418.18 L348.92 419.24 L349.61 420.07 L350.14 420.77 L350.57 421.42 L350.99 422.12 L351.44 422.95 L352 424 L352.66 425.28 L353.35 426.71 L354.04 428.24 L354.73 429.83 L355.39 431.44 L356 433.01 L356.54 434.51 L357 435.9 L357.37 437.19 L357.67 438.42 L357.91 439.61 L358.09 440.76 L358.24 441.86 L358.35 442.94 L358.43 443.98 L358.5 445 L358.54 445.92 L358.53 446.7 L358.48 447.41 L358.41 448.1 L358.31 448.84 L358.21 449.7 L358.1 450.73 L358 452 L357.89 453.64 L357.76 455.64 L357.62 457.87 L357.47 460.19 L357.32 462.45 L357.19 464.52 L357.08 466.25 L357 467.5" fill="none" stroke="#f8ab8a" stroke-width="2.1" stroke-linejoin="round" stroke-linecap="round" />
<path d="M288.3 370.3 L289.04 371.46 L290.02 373.04 L291.19 374.93 L292.49 377.01 L293.87 379.16 L295.28 381.29 L296.68 383.27 L298 385 L299.29 386.5 L300.61 387.9 L301.96 389.21 L303.32 390.46 L304.67 391.67 L306.01 392.87 L307.33 394.07 L308.6 395.3 L309.81 396.5 L310.97 397.64 L312.1 398.74 L313.21 399.84 L314.34 400.98 L315.5 402.2 L316.71 403.52 L318 405 L319.38 406.64 L320.82 408.42 L322.31 410.31 L323.84 412.28 L325.39 414.29 L326.94 416.32 L328.48 418.33 L330 420.3 L331.52 422.26 L333.06 424.27 L334.61 426.29 L336.16 428.31 L337.68 430.31 L339.18 432.25 L340.62 434.13 L342 435.9 L343.36 437.61 L344.73 439.3 L346.08 440.95 L347.39 442.53 L348.61 444.03 L349.72 445.42 L350.7 446.68 L351.5 447.8 L352.1 448.66 L352.52 449.24 L352.79 449.64 L352.95 449.96 L353.04 450.3 L353.11 450.77 L353.18 451.47 L353.3 452.5 L353.44 453.98 L353.57 455.88 L353.67 458.03 L353.76 460.29 L353.84 462.52 L353.9 464.56 L353.95 466.27 L354 467.5" fill="none" stroke="#f8ab8a" stroke-width="2.1" stroke-linejoin="round" stroke-linecap="round" />
<path d="M383 467 L383.5 452 L385 449 L386 453 L387 446.5 L388 452 L388.5 467 Z" fill="#000"/>
<path d="M356 467 L357 453 L358 447 L359.5 452 L361 449 L363 455 L365 447 L367 452 L369 448 L371 451 L373 446 L375 450 L377 447 L379 452 L381 448 L383 451 L384.5 449 L386 454 L387 467 Z" fill="#f8ab8a"/>
<path d="M372 467 L372.5 458 L374 455 L375.5 459 L377 456 L378 467 Z" fill="#f4713a" opacity="0.8"/>
</g>
<text x="272.3" y="280.9" font-size="12" text-anchor="start" fill="#4cbe93" >Doped WSe<tspan font-size="9" dy="2.5">2</tspan></text>
<text x="309.7" y="294.8" font-size="12" text-anchor="start" fill="#000" >Initial</text>
<text x="331" y="309.7" font-size="12" text-anchor="start" fill="#b9552c" >100°C</text>
<text x="276.3" y="338.6" font-size="12" text-anchor="start" fill="#f4713a" >150°C</text>
<text x="288.9" y="365.4" font-size="12" text-anchor="start" fill="#f8ab8a" >200°C</text>
<path d="M497 273.7 L500.37 273.96 L504.91 274.28 L510.33 274.65 L516.31 275.09 L522.57 275.59 L528.8 276.15 L534.71 276.79 L540 277.5 L544.85 278.3 L549.62 279.18 L554.29 280.13 L558.82 281.16 L563.19 282.23 L567.36 283.36 L571.31 284.52 L575 285.7 L578.42 286.93 L581.58 288.21 L584.51 289.54 L587.25 290.91 L589.83 292.31 L592.27 293.73 L594.62 295.17 L596.9 296.6 L599.07 298.03 L601.09 299.47 L602.98 300.92 L604.76 302.39 L606.44 303.88 L608.04 305.41 L609.59 306.98 L611.1 308.6 L612.53 310.23 L613.83 311.84 L615.04 313.46 L616.2 315.14 L617.33 316.89 L618.47 318.74 L619.65 320.74 L620.9 322.9 L622.22 325.27 L623.57 327.82 L624.94 330.52 L626.33 333.32 L627.73 336.19 L629.13 339.07 L630.52 341.92 L631.9 344.7 L633.29 347.46 L634.72 350.27 L636.16 353.1 L637.59 355.92 L638.99 358.71 L640.34 361.44 L641.62 364.08 L642.8 366.6 L643.89 369 L644.89 371.3 L645.82 373.52 L646.71 375.67 L647.55 377.78 L648.37 379.85 L649.18 381.92 L650 384 L650.85 386.18 L651.72 388.47 L652.6 390.81 L653.45 393.09 L654.24 395.23 L654.95 397.16 L655.55 398.78 L656 400" fill="none" stroke="#a9e0cb" stroke-width="6.5" stroke-linejoin="round"  stroke-linecap="butt"/>
<path d="M503 335 L505.11 335.89 L507.95 337.09 L511.32 338.51 L515.06 340.09 L518.98 341.76 L522.9 343.43 L526.63 345.03 L530 346.5 L533.07 347.86 L536.05 349.19 L538.96 350.5 L541.81 351.8 L544.62 353.09 L547.41 354.38 L550.2 355.68 L553 357 L555.78 358.34 L558.52 359.71 L561.24 361.09 L563.94 362.46 L566.65 363.83 L569.38 365.16 L572.16 366.46 L575 367.7 L577.96 368.9 L581.06 370.06 L584.23 371.2 L587.41 372.31 L590.54 373.38 L593.56 374.42 L596.4 375.43 L599 376.4 L601.2 377.32 L603 378.17 L604.55 378.98 L606.02 379.77 L607.57 380.54 L609.38 381.33 L611.6 382.14 L614.4 383 L618.01 383.94 L622.37 384.96 L627.21 386.01 L632.27 387.07 L637.27 388.1 L641.96 389.06 L646.06 389.9 L649.3 390.6 L651.7 391.15 L653.52 391.58 L654.86 391.92 L655.83 392.18 L656.53 392.37 L657.05 392.53 L657.51 392.67 L658 392.8" fill="none" stroke="#999999" stroke-width="6.5" stroke-linejoin="round"  stroke-linecap="butt"/>
<circle cx="502.2" cy="270.4" r="3.3" fill="#000" stroke="#000" stroke-width="1.4"/>
<circle cx="497.5" cy="278" r="3.3" fill="#000" stroke="#000" stroke-width="1.4"/>
<circle cx="502" cy="277" r="3.3" fill="#000" stroke="#000" stroke-width="1.4"/>
<circle cx="505.5" cy="278.5" r="3.3" fill="#000" stroke="#000" stroke-width="1.4"/>
<circle cx="500" cy="280.5" r="3.3" fill="#000" stroke="#000" stroke-width="1.4"/>
<circle cx="504" cy="281.5" r="3.3" fill="#000" stroke="#000" stroke-width="1.4"/>
<circle cx="506.5" cy="281" r="3.3" fill="#000" stroke="#000" stroke-width="1.4"/>
<circle cx="498" cy="281" r="3.3" fill="#000" stroke="#000" stroke-width="1.4"/>
<circle cx="502" cy="282.5" r="3.3" fill="#000" stroke="#000" stroke-width="1.4"/>
<circle cx="553" cy="277.5" r="3.3" fill="#c25523" stroke="#000" stroke-width="1.4"/>
<circle cx="555" cy="280" r="3.3" fill="#c25523" stroke="#000" stroke-width="1.4"/>
<circle cx="551" cy="283" r="3.3" fill="#c25523" stroke="#000" stroke-width="1.4"/>
<circle cx="556" cy="284" r="3.3" fill="#c25523" stroke="#000" stroke-width="1.4"/>
<circle cx="553" cy="286" r="3.3" fill="#c25523" stroke="#000" stroke-width="1.4"/>
<circle cx="549" cy="287.5" r="3.3" fill="#c25523" stroke="#000" stroke-width="1.4"/>
<circle cx="556" cy="288.5" r="3.3" fill="#c25523" stroke="#000" stroke-width="1.4"/>
<circle cx="552" cy="290" r="3.3" fill="#c25523" stroke="#000" stroke-width="1.4"/>
<circle cx="554" cy="292.5" r="3.3" fill="#c25523" stroke="#000" stroke-width="1.4"/>
<circle cx="605.2" cy="281.7" r="3.3" fill="#f26b2f" stroke="#000" stroke-width="1.4"/>
<circle cx="605.6" cy="286.3" r="3.3" fill="#f26b2f" stroke="#000" stroke-width="1.4"/>
<circle cx="608.9" cy="303.6" r="3.3" fill="#f26b2f" stroke="#000" stroke-width="1.4"/>
<circle cx="610" cy="307.5" r="3.3" fill="#f26b2f" stroke="#000" stroke-width="1.4"/>
<circle cx="603.4" cy="310.4" r="3.3" fill="#f26b2f" stroke="#000" stroke-width="1.4"/>
<circle cx="607.4" cy="304.9" r="3.3" fill="#f26b2f" stroke="#000" stroke-width="1.4"/>
<circle cx="606.7" cy="313" r="3.3" fill="#f26b2f" stroke="#000" stroke-width="1.4"/>
<circle cx="607.8" cy="317.4" r="3.3" fill="#f26b2f" stroke="#000" stroke-width="1.4"/>
<circle cx="603.4" cy="325.5" r="3.3" fill="#f26b2f" stroke="#000" stroke-width="1.4"/>
<circle cx="658.1" cy="318" r="3.3" fill="#f8a584" stroke="#000" stroke-width="1.4"/>
<circle cx="658.1" cy="356.8" r="3.3" fill="#f8a584" stroke="#000" stroke-width="1.4"/>
<circle cx="656.3" cy="405.9" r="3.3" fill="#f8a584" stroke="#000" stroke-width="1.4"/>
<circle cx="651.5" cy="412.5" r="3.3" fill="#f8a584" stroke="#000" stroke-width="1.4"/>
<circle cx="655.5" cy="412" r="3.3" fill="#f8a584" stroke="#000" stroke-width="1.4"/>
<circle cx="662" cy="409.9" r="3.3" fill="#f8a584" stroke="#000" stroke-width="1.4"/>
<circle cx="660.7" cy="416.4" r="3.3" fill="#f8a584" stroke="#000" stroke-width="1.4"/>
<circle cx="657.7" cy="417.3" r="3.3" fill="#f8a584" stroke="#000" stroke-width="1.4"/>
<circle cx="657" cy="423.4" r="3.3" fill="#f8a584" stroke="#000" stroke-width="1.4"/>
<circle cx="655.5" cy="432.2" r="3.3" fill="#f8a584" stroke="#000" stroke-width="1.4"/>
<path d="M497.9 326.5L501.9 330.5L497.9 334.5L493.9 330.5Z" fill="#fff" stroke="#000" stroke-width="1.6"/>
<path d="M504.4 322.1L508.4 326.1L504.4 330.1L500.4 326.1Z" fill="#fff" stroke="#000" stroke-width="1.6"/>
<path d="M501 332L505 336L501 340L497 336Z" fill="#fff" stroke="#000" stroke-width="1.6"/>
<path d="M500.5 340.7L504.5 344.7L500.5 348.7L496.5 344.7Z" fill="#fff" stroke="#000" stroke-width="1.6"/>
<path d="M505.5 325.4L509.5 329.4L505.5 333.4L501.5 329.4Z" fill="#fff" stroke="#000" stroke-width="1.6"/>
<path d="M499.5 323.5L503.5 327.5L499.5 331.5L495.5 327.5Z" fill="#fff" stroke="#000" stroke-width="1.6"/>
<path d="M552.5 351.7L556.5 355.7L552.5 359.7L548.5 355.7Z" fill="#fff" stroke="#c25523" stroke-width="1.6"/>
<path d="M551.4 361.5L555.4 365.5L551.4 369.5L547.4 365.5Z" fill="#fff" stroke="#c25523" stroke-width="1.6"/>
<path d="M555 349L559 353L555 357L551 353Z" fill="#fff" stroke="#c25523" stroke-width="1.6"/>
<path d="M549 352L553 356L549 360L545 356Z" fill="#fff" stroke="#c25523" stroke-width="1.6"/>
<path d="M554 354L558 358L554 362L550 358Z" fill="#fff" stroke="#c25523" stroke-width="1.6"/>
<path d="M600.7 374.5L604.7 378.5L600.7 382.5L596.7 378.5Z" fill="#fff" stroke="#f26b2f" stroke-width="1.6"/>
<path d="M604.5 372L608.5 376L604.5 380L600.5 376Z" fill="#fff" stroke="#f26b2f" stroke-width="1.6"/>
<path d="M610 376L614 380L610 384L606 380Z" fill="#fff" stroke="#f26b2f" stroke-width="1.6"/>
<path d="M605 384.8L609 388.8L605 392.8L601 388.8Z" fill="#fff" stroke="#f26b2f" stroke-width="1.6"/>
<path d="M607 373L611 377L607 381L603 377Z" fill="#fff" stroke="#f26b2f" stroke-width="1.6"/>
<path d="M655 386L659 390L655 394L651 390Z" fill="#fff" stroke="#f8ab8a" stroke-width="1.6"/>
<path d="M661 389L665 393L661 397L657 393Z" fill="#fff" stroke="#f8ab8a" stroke-width="1.6"/>
<path d="M659 394L663 398L659 402L655 398Z" fill="#fff" stroke="#f8ab8a" stroke-width="1.6"/>
<path d="M657 383L661 387L657 391L653 387Z" fill="#fff" stroke="#f8ab8a" stroke-width="1.6"/>
<path d="M663 386L667 390L663 394L659 390Z" fill="#fff" stroke="#f8ab8a" stroke-width="1.6"/>
<text x="617.6" y="297.7" font-size="12" text-anchor="start" fill="#5cc39c" >doped</text>
<text x="518.6" y="382.5" font-size="12" text-anchor="start" fill="#000" >undoped</text>
<text x="487.4" y="429.5" font-size="11.8" text-anchor="start" fill="#000" ><tspan font-style="italic">L</tspan><tspan font-size="8.8" dy="3">ch</tspan><tspan dy="-3"> = 1 µm</tspan></text>
<text x="487.4" y="443.8" font-size="11.8" text-anchor="start" fill="#000" ><tspan font-style="italic">V</tspan><tspan font-size="8.8" dy="3">DS</tspan><tspan dy="-3"> = -1 V</tspan></text>
<text x="487.4" y="458.1" font-size="11.8" text-anchor="start" fill="#000" ><tspan font-style="italic">V</tspan><tspan font-size="8.8" dy="3">GS</tspan><tspan dy="-3"> = -3 V</tspan></text>
</svg>
</body></html>
